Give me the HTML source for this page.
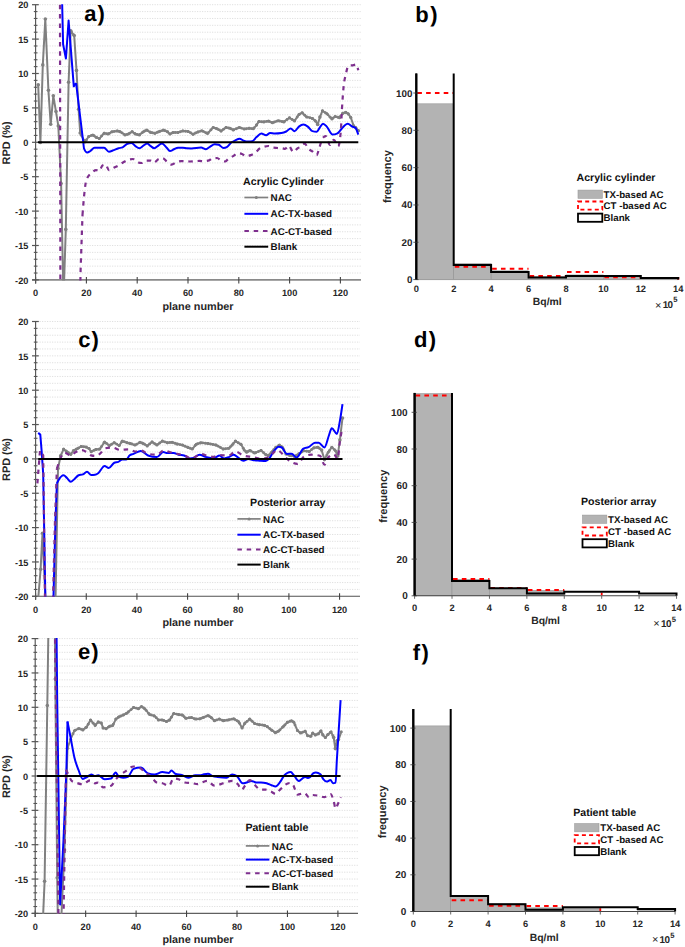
<!DOCTYPE html><html><head><meta charset="utf-8"><style>html,body{margin:0;padding:0;background:#fff;}svg{display:block;}text{font-family:"Liberation Sans", sans-serif;text-rendering:geometricPrecision;}</style></head><body>
<svg width="685" height="947" viewBox="0 0 685 947">
<rect width="685" height="947" fill="#fff"/>
<line x1="37.10" y1="273.02" x2="361.0" y2="273.02" stroke="#d9d9d9" stroke-width="0.9" stroke-dasharray="1.1 1.4"/>
<line x1="37.10" y1="266.14" x2="361.0" y2="266.14" stroke="#d9d9d9" stroke-width="0.9" stroke-dasharray="1.1 1.4"/>
<line x1="37.10" y1="259.26" x2="361.0" y2="259.26" stroke="#d9d9d9" stroke-width="0.9" stroke-dasharray="1.1 1.4"/>
<line x1="37.10" y1="252.38" x2="361.0" y2="252.38" stroke="#d9d9d9" stroke-width="0.9" stroke-dasharray="1.1 1.4"/>
<line x1="37.10" y1="245.50" x2="361.0" y2="245.50" stroke="#d9d9d9" stroke-width="0.9" stroke-dasharray="1.1 1.4"/>
<line x1="37.10" y1="238.62" x2="361.0" y2="238.62" stroke="#d9d9d9" stroke-width="0.9" stroke-dasharray="1.1 1.4"/>
<line x1="37.10" y1="231.74" x2="361.0" y2="231.74" stroke="#d9d9d9" stroke-width="0.9" stroke-dasharray="1.1 1.4"/>
<line x1="37.10" y1="224.86" x2="361.0" y2="224.86" stroke="#d9d9d9" stroke-width="0.9" stroke-dasharray="1.1 1.4"/>
<line x1="37.10" y1="217.98" x2="361.0" y2="217.98" stroke="#d9d9d9" stroke-width="0.9" stroke-dasharray="1.1 1.4"/>
<line x1="37.10" y1="211.10" x2="361.0" y2="211.10" stroke="#d9d9d9" stroke-width="0.9" stroke-dasharray="1.1 1.4"/>
<line x1="37.10" y1="204.22" x2="361.0" y2="204.22" stroke="#d9d9d9" stroke-width="0.9" stroke-dasharray="1.1 1.4"/>
<line x1="37.10" y1="197.34" x2="361.0" y2="197.34" stroke="#d9d9d9" stroke-width="0.9" stroke-dasharray="1.1 1.4"/>
<line x1="37.10" y1="190.46" x2="361.0" y2="190.46" stroke="#d9d9d9" stroke-width="0.9" stroke-dasharray="1.1 1.4"/>
<line x1="37.10" y1="183.58" x2="361.0" y2="183.58" stroke="#d9d9d9" stroke-width="0.9" stroke-dasharray="1.1 1.4"/>
<line x1="37.10" y1="176.70" x2="361.0" y2="176.70" stroke="#d9d9d9" stroke-width="0.9" stroke-dasharray="1.1 1.4"/>
<line x1="37.10" y1="169.82" x2="361.0" y2="169.82" stroke="#d9d9d9" stroke-width="0.9" stroke-dasharray="1.1 1.4"/>
<line x1="37.10" y1="162.94" x2="361.0" y2="162.94" stroke="#d9d9d9" stroke-width="0.9" stroke-dasharray="1.1 1.4"/>
<line x1="37.10" y1="156.06" x2="361.0" y2="156.06" stroke="#d9d9d9" stroke-width="0.9" stroke-dasharray="1.1 1.4"/>
<line x1="37.10" y1="149.18" x2="361.0" y2="149.18" stroke="#d9d9d9" stroke-width="0.9" stroke-dasharray="1.1 1.4"/>
<line x1="37.10" y1="142.30" x2="361.0" y2="142.30" stroke="#d9d9d9" stroke-width="0.9" stroke-dasharray="1.1 1.4"/>
<line x1="37.10" y1="135.42" x2="361.0" y2="135.42" stroke="#d9d9d9" stroke-width="0.9" stroke-dasharray="1.1 1.4"/>
<line x1="37.10" y1="128.54" x2="361.0" y2="128.54" stroke="#d9d9d9" stroke-width="0.9" stroke-dasharray="1.1 1.4"/>
<line x1="37.10" y1="121.66" x2="361.0" y2="121.66" stroke="#d9d9d9" stroke-width="0.9" stroke-dasharray="1.1 1.4"/>
<line x1="37.10" y1="114.78" x2="361.0" y2="114.78" stroke="#d9d9d9" stroke-width="0.9" stroke-dasharray="1.1 1.4"/>
<line x1="37.10" y1="107.90" x2="361.0" y2="107.90" stroke="#d9d9d9" stroke-width="0.9" stroke-dasharray="1.1 1.4"/>
<line x1="37.10" y1="101.02" x2="361.0" y2="101.02" stroke="#d9d9d9" stroke-width="0.9" stroke-dasharray="1.1 1.4"/>
<line x1="37.10" y1="94.14" x2="361.0" y2="94.14" stroke="#d9d9d9" stroke-width="0.9" stroke-dasharray="1.1 1.4"/>
<line x1="37.10" y1="87.26" x2="361.0" y2="87.26" stroke="#d9d9d9" stroke-width="0.9" stroke-dasharray="1.1 1.4"/>
<line x1="37.10" y1="80.38" x2="361.0" y2="80.38" stroke="#d9d9d9" stroke-width="0.9" stroke-dasharray="1.1 1.4"/>
<line x1="37.10" y1="73.50" x2="361.0" y2="73.50" stroke="#d9d9d9" stroke-width="0.9" stroke-dasharray="1.1 1.4"/>
<line x1="37.10" y1="66.62" x2="361.0" y2="66.62" stroke="#d9d9d9" stroke-width="0.9" stroke-dasharray="1.1 1.4"/>
<line x1="37.10" y1="59.74" x2="361.0" y2="59.74" stroke="#d9d9d9" stroke-width="0.9" stroke-dasharray="1.1 1.4"/>
<line x1="37.10" y1="52.86" x2="361.0" y2="52.86" stroke="#d9d9d9" stroke-width="0.9" stroke-dasharray="1.1 1.4"/>
<line x1="37.10" y1="45.98" x2="361.0" y2="45.98" stroke="#d9d9d9" stroke-width="0.9" stroke-dasharray="1.1 1.4"/>
<line x1="37.10" y1="39.10" x2="361.0" y2="39.10" stroke="#d9d9d9" stroke-width="0.9" stroke-dasharray="1.1 1.4"/>
<line x1="37.10" y1="32.22" x2="361.0" y2="32.22" stroke="#d9d9d9" stroke-width="0.9" stroke-dasharray="1.1 1.4"/>
<line x1="37.10" y1="25.34" x2="361.0" y2="25.34" stroke="#d9d9d9" stroke-width="0.9" stroke-dasharray="1.1 1.4"/>
<line x1="37.10" y1="18.46" x2="361.0" y2="18.46" stroke="#d9d9d9" stroke-width="0.9" stroke-dasharray="1.1 1.4"/>
<line x1="37.10" y1="11.58" x2="361.0" y2="11.58" stroke="#d9d9d9" stroke-width="0.9" stroke-dasharray="1.1 1.4"/>
<line x1="37.10" y1="4.70" x2="361.0" y2="4.70" stroke="#d9d9d9" stroke-width="0.9" stroke-dasharray="1.1 1.4"/>
<line x1="32.10" y1="279.90" x2="361.0" y2="279.90" stroke="#8a8a8a" stroke-width="1.6"/>
<line x1="35.60" y1="276.90" x2="35.60" y2="283.40" stroke="#444" stroke-width="1.1"/>
<text x="35.60" y="296.10" text-anchor="middle" font-size="9.2" font-weight="bold" fill="#262626">0</text>
<line x1="86.40" y1="276.90" x2="86.40" y2="283.40" stroke="#444" stroke-width="1.1"/>
<text x="86.40" y="296.10" text-anchor="middle" font-size="9.2" font-weight="bold" fill="#262626">20</text>
<line x1="137.20" y1="276.90" x2="137.20" y2="283.40" stroke="#444" stroke-width="1.1"/>
<text x="137.20" y="296.10" text-anchor="middle" font-size="9.2" font-weight="bold" fill="#262626">40</text>
<line x1="188.00" y1="276.90" x2="188.00" y2="283.40" stroke="#444" stroke-width="1.1"/>
<text x="188.00" y="296.10" text-anchor="middle" font-size="9.2" font-weight="bold" fill="#262626">60</text>
<line x1="238.80" y1="276.90" x2="238.80" y2="283.40" stroke="#444" stroke-width="1.1"/>
<text x="238.80" y="296.10" text-anchor="middle" font-size="9.2" font-weight="bold" fill="#262626">80</text>
<line x1="289.60" y1="276.90" x2="289.60" y2="283.40" stroke="#444" stroke-width="1.1"/>
<text x="289.60" y="296.10" text-anchor="middle" font-size="9.2" font-weight="bold" fill="#262626">100</text>
<line x1="340.40" y1="276.90" x2="340.40" y2="283.40" stroke="#444" stroke-width="1.1"/>
<text x="340.40" y="296.10" text-anchor="middle" font-size="9.2" font-weight="bold" fill="#262626">120</text>
<line x1="35.60" y1="4.70" x2="35.60" y2="283.40" stroke="#555" stroke-width="1.15"/>
<line x1="32.00" y1="279.90" x2="38.80" y2="279.90" stroke="#555" stroke-width="1.2"/>
<text x="28.40" y="283.60" text-anchor="end" font-size="9.2" font-weight="bold" fill="#262626">-20</text>
<line x1="33.80" y1="273.02" x2="37.40" y2="273.02" stroke="#555" stroke-width="1.1"/>
<line x1="33.80" y1="266.14" x2="37.40" y2="266.14" stroke="#555" stroke-width="1.1"/>
<line x1="33.80" y1="259.26" x2="37.40" y2="259.26" stroke="#555" stroke-width="1.1"/>
<line x1="33.80" y1="252.38" x2="37.40" y2="252.38" stroke="#555" stroke-width="1.1"/>
<line x1="32.00" y1="245.50" x2="38.80" y2="245.50" stroke="#555" stroke-width="1.2"/>
<text x="28.40" y="249.20" text-anchor="end" font-size="9.2" font-weight="bold" fill="#262626">-15</text>
<line x1="33.80" y1="238.62" x2="37.40" y2="238.62" stroke="#555" stroke-width="1.1"/>
<line x1="33.80" y1="231.74" x2="37.40" y2="231.74" stroke="#555" stroke-width="1.1"/>
<line x1="33.80" y1="224.86" x2="37.40" y2="224.86" stroke="#555" stroke-width="1.1"/>
<line x1="33.80" y1="217.98" x2="37.40" y2="217.98" stroke="#555" stroke-width="1.1"/>
<line x1="32.00" y1="211.10" x2="38.80" y2="211.10" stroke="#555" stroke-width="1.2"/>
<text x="28.40" y="214.80" text-anchor="end" font-size="9.2" font-weight="bold" fill="#262626">-10</text>
<line x1="33.80" y1="204.22" x2="37.40" y2="204.22" stroke="#555" stroke-width="1.1"/>
<line x1="33.80" y1="197.34" x2="37.40" y2="197.34" stroke="#555" stroke-width="1.1"/>
<line x1="33.80" y1="190.46" x2="37.40" y2="190.46" stroke="#555" stroke-width="1.1"/>
<line x1="33.80" y1="183.58" x2="37.40" y2="183.58" stroke="#555" stroke-width="1.1"/>
<line x1="32.00" y1="176.70" x2="38.80" y2="176.70" stroke="#555" stroke-width="1.2"/>
<text x="28.40" y="180.40" text-anchor="end" font-size="9.2" font-weight="bold" fill="#262626">-5</text>
<line x1="33.80" y1="169.82" x2="37.40" y2="169.82" stroke="#555" stroke-width="1.1"/>
<line x1="33.80" y1="162.94" x2="37.40" y2="162.94" stroke="#555" stroke-width="1.1"/>
<line x1="33.80" y1="156.06" x2="37.40" y2="156.06" stroke="#555" stroke-width="1.1"/>
<line x1="33.80" y1="149.18" x2="37.40" y2="149.18" stroke="#555" stroke-width="1.1"/>
<line x1="32.00" y1="142.30" x2="38.80" y2="142.30" stroke="#555" stroke-width="1.2"/>
<text x="28.40" y="146.00" text-anchor="end" font-size="9.2" font-weight="bold" fill="#262626">0</text>
<line x1="33.80" y1="135.42" x2="37.40" y2="135.42" stroke="#555" stroke-width="1.1"/>
<line x1="33.80" y1="128.54" x2="37.40" y2="128.54" stroke="#555" stroke-width="1.1"/>
<line x1="33.80" y1="121.66" x2="37.40" y2="121.66" stroke="#555" stroke-width="1.1"/>
<line x1="33.80" y1="114.78" x2="37.40" y2="114.78" stroke="#555" stroke-width="1.1"/>
<line x1="32.00" y1="107.90" x2="38.80" y2="107.90" stroke="#555" stroke-width="1.2"/>
<text x="28.40" y="111.60" text-anchor="end" font-size="9.2" font-weight="bold" fill="#262626">5</text>
<line x1="33.80" y1="101.02" x2="37.40" y2="101.02" stroke="#555" stroke-width="1.1"/>
<line x1="33.80" y1="94.14" x2="37.40" y2="94.14" stroke="#555" stroke-width="1.1"/>
<line x1="33.80" y1="87.26" x2="37.40" y2="87.26" stroke="#555" stroke-width="1.1"/>
<line x1="33.80" y1="80.38" x2="37.40" y2="80.38" stroke="#555" stroke-width="1.1"/>
<line x1="32.00" y1="73.50" x2="38.80" y2="73.50" stroke="#555" stroke-width="1.2"/>
<text x="28.40" y="77.20" text-anchor="end" font-size="9.2" font-weight="bold" fill="#262626">10</text>
<line x1="33.80" y1="66.62" x2="37.40" y2="66.62" stroke="#555" stroke-width="1.1"/>
<line x1="33.80" y1="59.74" x2="37.40" y2="59.74" stroke="#555" stroke-width="1.1"/>
<line x1="33.80" y1="52.86" x2="37.40" y2="52.86" stroke="#555" stroke-width="1.1"/>
<line x1="33.80" y1="45.98" x2="37.40" y2="45.98" stroke="#555" stroke-width="1.1"/>
<line x1="32.00" y1="39.10" x2="38.80" y2="39.10" stroke="#555" stroke-width="1.2"/>
<text x="28.40" y="42.80" text-anchor="end" font-size="9.2" font-weight="bold" fill="#262626">15</text>
<line x1="33.80" y1="32.22" x2="37.40" y2="32.22" stroke="#555" stroke-width="1.1"/>
<line x1="33.80" y1="25.34" x2="37.40" y2="25.34" stroke="#555" stroke-width="1.1"/>
<line x1="33.80" y1="18.46" x2="37.40" y2="18.46" stroke="#555" stroke-width="1.1"/>
<line x1="33.80" y1="11.58" x2="37.40" y2="11.58" stroke="#555" stroke-width="1.1"/>
<line x1="32.00" y1="4.70" x2="38.80" y2="4.70" stroke="#555" stroke-width="1.2"/>
<text x="28.40" y="8.40" text-anchor="end" font-size="9.2" font-weight="bold" fill="#262626">20</text>
<text transform="translate(10.0,142.90) rotate(-90)" text-anchor="middle" font-size="10.9" font-weight="bold" fill="#262626">RPD (%)</text>
<text x="198.00" y="309.90" text-anchor="middle" font-size="10.85" font-weight="bold" fill="#262626">plane number</text>
<text x="84.2" y="20.7" font-size="22" font-weight="bold" letter-spacing="1" fill="#000">a)</text>
<clipPath id="clipa"><rect x="35.6" y="4.20" width="325.4" height="276.20"/></clipPath>
<g clip-path="url(#clipa)" fill="none" stroke-linejoin="round">
<polyline points="38.2,84.7 40.4,142.5 42.8,64.9 45.3,19.0 48.4,90.2 50.7,124.3 53.3,95.8 56.0,111.6 58.3,125.9 61.1,183.5 63.5,300.0 65.8,229.4 68.6,82.3 70.7,30.9 74.2,35.6 76.5,70.4 78.6,109.2 80.2,133.0 84.8,142.1 88.8,136.5 92.8,134.9 96.1,137.3 99.3,138.6 104.1,133.3 108.1,134.1 112.1,131.7 117.7,130.9 120.1,131.7 125.0,134.9 128.2,134.1 132.2,131.7 135.4,134.1 139.4,134.9 143.4,131.7 146.6,130.1 150.7,132.5 154.7,133.3 158.7,131.7 163.5,130.1 167.5,131.7 169.9,134.1 173.1,132.5 178.0,132.5 182.8,130.9 188.2,131.5 193.0,134.2 197.8,132.0 201.9,130.7 207.5,133.6 213.1,127.5 217.1,128.8 221.1,131.0 226.0,127.5 230.0,128.3 233.2,129.9 239.6,127.5 244.4,129.1 249.2,128.3 253.3,128.8 256.5,125.1 258.9,121.4 263.7,121.9 268.5,121.1 272.5,122.7 278.1,120.7 283.8,121.9 289.4,117.8 294.5,120.9 298.9,114.6 302.1,112.7 306.6,116.9 312.3,118.4 315.4,120.9 317.7,124.5 319.9,117.1 322.4,110.8 326.8,113.6 331.9,119.0 335.1,116.5 339.5,117.8 342.7,113.3 345.9,112.3 348.4,114.0 350.9,117.8 353.5,125.4 356.0,127.9 358.5,130.8" stroke="#808080" stroke-width="2.0"/>
<g fill="#808080"><circle cx="71.2" cy="31.5" r="1.45"/><circle cx="73.7" cy="34.9" r="1.45"/><circle cx="81.3" cy="135.2" r="1.45"/><circle cx="83.9" cy="140.2" r="1.45"/><circle cx="86.4" cy="139.9" r="1.45"/><circle cx="88.9" cy="136.4" r="1.45"/><circle cx="91.5" cy="135.4" r="1.45"/><circle cx="94.0" cy="135.8" r="1.45"/><circle cx="96.6" cy="137.5" r="1.45"/><circle cx="99.1" cy="138.5" r="1.45"/><circle cx="101.6" cy="136.0" r="1.45"/><circle cx="104.2" cy="133.3" r="1.45"/><circle cx="106.7" cy="133.8" r="1.45"/><circle cx="109.3" cy="133.4" r="1.45"/><circle cx="111.8" cy="131.9" r="1.45"/><circle cx="114.3" cy="131.4" r="1.45"/><circle cx="116.9" cy="131.0" r="1.45"/><circle cx="119.4" cy="131.5" r="1.45"/><circle cx="122.0" cy="132.9" r="1.45"/><circle cx="124.5" cy="134.6" r="1.45"/><circle cx="127.0" cy="134.4" r="1.45"/><circle cx="129.6" cy="133.3" r="1.45"/><circle cx="132.1" cy="131.7" r="1.45"/><circle cx="134.7" cy="133.5" r="1.45"/><circle cx="137.2" cy="134.5" r="1.45"/><circle cx="139.7" cy="134.6" r="1.45"/><circle cx="142.3" cy="132.6" r="1.45"/><circle cx="144.8" cy="131.0" r="1.45"/><circle cx="147.4" cy="130.5" r="1.45"/><circle cx="149.9" cy="132.0" r="1.45"/><circle cx="152.4" cy="132.8" r="1.45"/><circle cx="155.0" cy="133.2" r="1.45"/><circle cx="157.5" cy="132.2" r="1.45"/><circle cx="160.1" cy="131.2" r="1.45"/><circle cx="162.6" cy="130.4" r="1.45"/><circle cx="165.1" cy="130.8" r="1.45"/><circle cx="167.7" cy="131.9" r="1.45"/><circle cx="170.2" cy="133.9" r="1.45"/><circle cx="172.8" cy="132.7" r="1.45"/><circle cx="175.3" cy="132.5" r="1.45"/><circle cx="177.8" cy="132.5" r="1.45"/><circle cx="180.4" cy="131.7" r="1.45"/><circle cx="182.9" cy="130.9" r="1.45"/><circle cx="185.5" cy="131.2" r="1.45"/><circle cx="188.0" cy="131.5" r="1.45"/><circle cx="190.5" cy="132.8" r="1.45"/><circle cx="193.1" cy="134.2" r="1.45"/><circle cx="195.6" cy="133.0" r="1.45"/><circle cx="198.2" cy="131.9" r="1.45"/><circle cx="200.7" cy="131.1" r="1.45"/><circle cx="203.2" cy="131.4" r="1.45"/><circle cx="205.8" cy="132.7" r="1.45"/><circle cx="208.3" cy="132.7" r="1.45"/><circle cx="210.9" cy="129.9" r="1.45"/><circle cx="213.4" cy="127.6" r="1.45"/><circle cx="215.9" cy="128.4" r="1.45"/><circle cx="218.5" cy="129.6" r="1.45"/><circle cx="221.0" cy="131.0" r="1.45"/><circle cx="223.6" cy="129.2" r="1.45"/><circle cx="226.1" cy="127.5" r="1.45"/><circle cx="228.6" cy="128.0" r="1.45"/><circle cx="231.2" cy="128.9" r="1.45"/><circle cx="233.7" cy="129.7" r="1.45"/><circle cx="236.3" cy="128.8" r="1.45"/><circle cx="238.8" cy="127.8" r="1.45"/><circle cx="241.3" cy="128.1" r="1.45"/><circle cx="243.9" cy="128.9" r="1.45"/><circle cx="246.4" cy="128.8" r="1.45"/><circle cx="249.0" cy="128.3" r="1.45"/><circle cx="251.5" cy="128.6" r="1.45"/><circle cx="254.0" cy="127.9" r="1.45"/><circle cx="256.6" cy="125.0" r="1.45"/><circle cx="259.1" cy="121.4" r="1.45"/><circle cx="261.7" cy="121.7" r="1.45"/><circle cx="264.2" cy="121.8" r="1.45"/><circle cx="266.7" cy="121.4" r="1.45"/><circle cx="269.3" cy="121.4" r="1.45"/><circle cx="271.8" cy="122.4" r="1.45"/><circle cx="274.4" cy="122.0" r="1.45"/><circle cx="276.9" cy="121.1" r="1.45"/><circle cx="279.4" cy="121.0" r="1.45"/><circle cx="282.0" cy="121.5" r="1.45"/><circle cx="284.5" cy="121.4" r="1.45"/><circle cx="287.1" cy="119.5" r="1.45"/><circle cx="289.6" cy="117.9" r="1.45"/><circle cx="292.1" cy="119.5" r="1.45"/><circle cx="294.7" cy="120.6" r="1.45"/><circle cx="297.2" cy="117.0" r="1.45"/><circle cx="299.8" cy="114.1" r="1.45"/><circle cx="302.3" cy="112.9" r="1.45"/><circle cx="304.8" cy="115.3" r="1.45"/><circle cx="307.4" cy="117.1" r="1.45"/><circle cx="309.9" cy="117.8" r="1.45"/><circle cx="312.5" cy="118.5" r="1.45"/><circle cx="315.0" cy="120.6" r="1.45"/><circle cx="317.5" cy="124.2" r="1.45"/><circle cx="322.6" cy="110.9" r="1.45"/><circle cx="325.2" cy="112.6" r="1.45"/><circle cx="327.7" cy="114.6" r="1.45"/><circle cx="330.2" cy="117.2" r="1.45"/><circle cx="332.8" cy="118.3" r="1.45"/><circle cx="335.3" cy="116.6" r="1.45"/><circle cx="337.9" cy="117.3" r="1.45"/><circle cx="340.4" cy="116.5" r="1.45"/><circle cx="342.9" cy="113.2" r="1.45"/><circle cx="345.5" cy="112.4" r="1.45"/><circle cx="348.0" cy="113.7" r="1.45"/><circle cx="350.6" cy="117.3" r="1.45"/><circle cx="355.6" cy="127.5" r="1.45"/><circle cx="358.2" cy="130.4" r="1.45"/></g>
<g fill="#808080"><circle cx="38.2" cy="84.7" r="1.8"/><circle cx="40.4" cy="142.5" r="1.8"/><circle cx="42.8" cy="64.9" r="1.8"/><circle cx="45.3" cy="19.0" r="1.8"/><circle cx="48.4" cy="90.2" r="1.8"/><circle cx="50.7" cy="124.3" r="1.8"/><circle cx="53.3" cy="95.8" r="1.8"/><circle cx="56.0" cy="111.6" r="1.8"/><circle cx="58.3" cy="125.9" r="1.8"/><circle cx="61.1" cy="183.5" r="1.8"/><circle cx="63.5" cy="300.0" r="1.8"/><circle cx="65.8" cy="229.4" r="1.8"/><circle cx="68.6" cy="82.3" r="1.8"/><circle cx="70.7" cy="30.9" r="1.8"/><circle cx="74.2" cy="35.6" r="1.8"/><circle cx="76.5" cy="70.4" r="1.8"/><circle cx="78.6" cy="109.2" r="1.8"/><circle cx="80.2" cy="133.0" r="1.8"/><circle cx="84.8" cy="142.1" r="1.5"/><circle cx="88.8" cy="136.5" r="1.5"/><circle cx="92.8" cy="134.9" r="1.5"/><circle cx="96.1" cy="137.3" r="1.5"/><circle cx="99.3" cy="138.6" r="1.5"/><circle cx="104.1" cy="133.3" r="1.5"/><circle cx="108.1" cy="134.1" r="1.5"/><circle cx="112.1" cy="131.7" r="1.5"/><circle cx="117.7" cy="130.9" r="1.5"/><circle cx="120.1" cy="131.7" r="1.5"/><circle cx="125.0" cy="134.9" r="1.5"/><circle cx="128.2" cy="134.1" r="1.5"/><circle cx="132.2" cy="131.7" r="1.5"/><circle cx="135.4" cy="134.1" r="1.5"/><circle cx="139.4" cy="134.9" r="1.5"/><circle cx="143.4" cy="131.7" r="1.5"/><circle cx="146.6" cy="130.1" r="1.5"/><circle cx="150.7" cy="132.5" r="1.5"/><circle cx="154.7" cy="133.3" r="1.5"/><circle cx="158.7" cy="131.7" r="1.5"/><circle cx="163.5" cy="130.1" r="1.5"/><circle cx="167.5" cy="131.7" r="1.5"/><circle cx="169.9" cy="134.1" r="1.5"/><circle cx="173.1" cy="132.5" r="1.5"/><circle cx="178.0" cy="132.5" r="1.5"/><circle cx="182.8" cy="130.9" r="1.5"/><circle cx="188.2" cy="131.5" r="1.5"/><circle cx="193.0" cy="134.2" r="1.5"/><circle cx="197.8" cy="132.0" r="1.5"/><circle cx="201.9" cy="130.7" r="1.5"/><circle cx="207.5" cy="133.6" r="1.5"/><circle cx="213.1" cy="127.5" r="1.5"/><circle cx="217.1" cy="128.8" r="1.5"/><circle cx="221.1" cy="131.0" r="1.5"/><circle cx="226.0" cy="127.5" r="1.5"/><circle cx="230.0" cy="128.3" r="1.5"/><circle cx="233.2" cy="129.9" r="1.5"/><circle cx="239.6" cy="127.5" r="1.5"/><circle cx="244.4" cy="129.1" r="1.5"/><circle cx="249.2" cy="128.3" r="1.5"/><circle cx="253.3" cy="128.8" r="1.5"/><circle cx="256.5" cy="125.1" r="1.5"/><circle cx="258.9" cy="121.4" r="1.5"/><circle cx="263.7" cy="121.9" r="1.5"/><circle cx="268.5" cy="121.1" r="1.5"/><circle cx="272.5" cy="122.7" r="1.5"/><circle cx="278.1" cy="120.7" r="1.5"/><circle cx="283.8" cy="121.9" r="1.5"/><circle cx="289.4" cy="117.8" r="1.5"/><circle cx="294.5" cy="120.9" r="1.5"/><circle cx="298.9" cy="114.6" r="1.5"/><circle cx="302.1" cy="112.7" r="1.5"/><circle cx="306.6" cy="116.9" r="1.5"/><circle cx="312.3" cy="118.4" r="1.5"/><circle cx="315.4" cy="120.9" r="1.5"/><circle cx="317.7" cy="124.5" r="1.8"/><circle cx="319.9" cy="117.1" r="1.8"/><circle cx="322.4" cy="110.8" r="1.5"/><circle cx="326.8" cy="113.6" r="1.5"/><circle cx="331.9" cy="119.0" r="1.5"/><circle cx="335.1" cy="116.5" r="1.5"/><circle cx="339.5" cy="117.8" r="1.5"/><circle cx="342.7" cy="113.3" r="1.5"/><circle cx="345.9" cy="112.3" r="1.5"/><circle cx="348.4" cy="114.0" r="1.5"/><circle cx="350.9" cy="117.8" r="1.5"/><circle cx="353.5" cy="125.4" r="1.5"/><circle cx="356.0" cy="127.9" r="1.5"/><circle cx="358.5" cy="130.8" r="1.5"/></g>
<path d="M61.60,-20.00 L63.10,44.30 L65.90,58.60 L68.60,20.60 L73.80,86.30 L76.10,83.10" stroke="#0000ff" stroke-width="2"/>
<path d="M76.10,83.10 C78.50,102.55 80.90,122.00 83.30,142.50 C83.53,144.49 83.77,147.90 84.00,148.50 C85.07,151.23 86.13,152.60 87.20,152.60 C88.27,152.60 89.33,151.68 90.40,151.00 C91.77,150.13 93.13,147.70 94.50,147.70 C97.70,147.70 100.90,147.70 104.10,147.70 C105.70,147.70 107.30,151.80 108.90,151.80 C110.50,151.80 112.10,150.70 113.70,150.10 C115.30,149.50 116.90,148.68 118.50,148.20 C119.87,147.79 121.23,147.90 122.60,147.30 C124.20,146.60 125.80,144.34 127.40,143.70 C128.73,143.17 130.07,142.90 131.40,142.90 C132.73,142.90 134.07,145.22 135.40,146.10 C136.73,146.98 138.07,148.20 139.40,148.20 C140.73,148.20 142.07,146.53 143.40,145.70 C144.63,144.93 145.87,143.40 147.10,143.40 C148.30,143.40 149.50,145.29 150.70,146.10 C151.87,146.89 153.03,148.20 154.20,148.20 C155.70,148.20 157.20,146.22 158.70,145.30 C159.77,144.64 160.83,143.40 161.90,143.40 C163.50,143.40 165.10,146.14 166.70,147.70 C167.77,148.74 168.83,151.00 169.90,151.00 C171.23,151.00 172.57,149.84 173.90,149.30 C175.27,148.74 176.63,147.70 178.00,147.70 C179.60,147.70 181.20,147.70 182.80,147.70 C184.20,147.70 185.60,148.24 187.00,148.30 C188.47,148.37 189.93,148.40 191.40,148.40 C194.63,148.40 197.87,147.60 201.10,147.60 C202.70,147.60 204.30,149.20 205.90,149.20 C207.23,149.20 208.57,147.55 209.90,146.80 C211.50,145.90 213.10,144.30 214.70,144.30 C216.03,144.30 217.37,144.47 218.70,144.80 C220.30,145.20 221.90,148.00 223.50,148.00 C224.60,148.00 225.70,147.70 226.80,147.10 C228.40,146.23 230.00,143.42 231.60,142.30 C232.67,141.55 233.73,141.20 234.80,140.70 C236.40,139.95 238.00,138.70 239.60,138.70 C240.93,138.70 242.27,140.22 243.60,140.70 C245.20,141.27 246.80,141.60 248.40,141.60 C249.73,141.60 251.07,141.43 252.40,141.10 C253.77,140.76 255.13,138.28 256.50,137.10 C258.10,135.72 259.70,133.60 261.30,133.60 C262.90,133.60 264.50,135.20 266.10,135.20 C267.43,135.20 268.77,133.10 270.10,133.10 C271.70,133.10 273.30,133.60 274.90,133.60 C277.07,133.60 279.23,133.43 281.40,133.10 C283.00,132.85 284.60,132.31 286.20,131.50 C287.70,130.74 289.20,128.50 290.70,128.50 C291.97,128.50 293.23,131.30 294.50,131.30 C295.97,131.30 297.43,127.73 298.90,126.60 C300.40,125.44 301.90,124.50 303.40,124.50 C304.87,124.50 306.33,125.52 307.80,126.60 C309.30,127.70 310.80,130.69 312.30,131.10 C313.77,131.50 315.23,131.70 316.70,131.70 C317.77,131.70 318.83,128.65 319.90,127.30 C320.93,125.99 321.97,123.70 323.00,123.70 C324.27,123.70 325.53,125.31 326.80,126.60 C328.70,128.54 330.60,134.60 332.50,134.60 C334.00,134.60 335.50,134.27 337.00,133.60 C338.27,133.04 339.53,131.17 340.80,129.80 C342.07,128.43 343.33,126.44 344.60,125.40 C345.67,124.53 346.73,123.70 347.80,123.70 C349.27,123.70 350.73,125.85 352.20,126.60 C353.27,127.15 354.33,127.03 355.40,127.90 C356.37,128.69 357.33,131.64 358.30,134.60" stroke="#0000ff" stroke-width="2"/>
<path d="M59.95,-23.10 L60.40,300.00" stroke="#7e2f8e" stroke-width="2.2" stroke-dasharray="4.5 4.8"/>
<path d="M80.00,300.00 L80.60,270.00 L82.50,215.00" stroke="#7e2f8e" stroke-width="2.2" stroke-dasharray="4.5 4.8"/>
<path d="M82.50,215.00 C83.17,206.46 83.83,197.91 84.50,192.00 C85.13,186.38 85.77,181.55 86.40,179.90 C88.27,175.03 90.13,174.26 92.00,172.60 C93.37,171.39 94.73,170.20 96.10,170.20 C97.17,170.20 98.23,171.00 99.30,171.00 C100.37,171.00 101.43,165.93 102.50,165.40 C103.57,164.87 104.63,164.60 105.70,164.60 C106.77,164.60 107.83,170.20 108.90,170.20 C110.50,170.20 112.10,168.60 113.70,167.80 C115.30,167.00 116.90,166.32 118.50,165.40 C120.13,164.46 121.77,163.14 123.40,162.20 C125.00,161.28 126.60,160.33 128.20,159.80 C129.80,159.27 131.40,159.00 133.00,159.00 C134.33,159.00 135.67,161.76 137.00,162.20 C138.60,162.73 140.20,163.00 141.80,163.00 C143.13,163.00 144.47,160.60 145.80,160.60 C147.43,160.60 149.07,160.60 150.70,160.60 C151.77,160.60 152.83,162.70 153.90,162.70 C155.50,162.70 157.10,159.64 158.70,159.00 C160.03,158.47 161.37,158.20 162.70,158.20 C164.03,158.20 165.37,160.41 166.70,161.40 C168.30,162.58 169.90,164.60 171.50,164.60 C173.13,164.60 174.77,162.78 176.40,162.20 C178.00,161.63 179.60,161.10 181.20,161.10 C182.63,161.10 184.07,161.13 185.50,161.20 C186.93,161.27 188.37,161.50 189.80,161.50 C191.40,161.50 193.00,161.30 194.60,161.20 C196.23,161.10 197.87,160.90 199.50,160.90 C200.83,160.90 202.17,161.20 203.50,161.20 C205.37,161.20 207.23,160.93 209.10,160.40 C210.17,160.10 211.23,158.43 212.30,158.30 C213.90,158.10 215.50,158.00 217.10,158.00 C218.43,158.00 219.77,159.82 221.10,160.40 C222.43,160.98 223.77,161.50 225.10,161.50 C226.20,161.50 227.30,159.59 228.40,158.80 C230.00,157.66 231.60,157.03 233.20,156.10 C234.80,155.17 236.40,153.20 238.00,153.20 C239.33,153.20 240.67,153.52 242.00,154.00 C243.33,154.48 244.67,156.10 246.00,156.10 C247.60,156.10 249.20,155.70 250.80,155.10 C252.43,154.48 254.07,153.70 255.70,152.40 C257.03,151.34 258.37,149.33 259.70,148.40 C261.03,147.47 262.37,147.19 263.70,146.80 C265.30,146.33 266.90,146.00 268.50,146.00 C269.83,146.00 271.17,147.41 272.50,147.60 C274.37,147.87 276.23,147.85 278.10,148.00 C279.70,148.12 281.30,148.15 282.90,148.40 C283.60,148.51 284.30,148.80 285.00,148.80 C286.27,148.80 287.53,145.60 288.80,145.60 C290.27,145.60 291.73,152.00 293.20,152.00 C294.70,152.00 296.20,149.09 297.70,148.20 C298.73,147.59 299.77,147.52 300.80,146.90 C302.10,146.12 303.40,143.70 304.70,143.70 C305.97,143.70 307.23,147.52 308.50,148.80 C309.77,150.08 311.03,150.43 312.30,151.40 C313.77,152.53 315.23,155.20 316.70,155.20 C317.53,155.20 318.37,150.60 319.20,148.20 C320.27,145.13 321.33,140.43 322.40,138.70 C323.47,136.97 324.53,136.10 325.60,136.10 C327.07,136.10 328.53,145.00 330.00,145.00 C331.27,145.00 332.53,139.90 333.80,139.90 C335.27,139.90 336.73,146.30 338.20,146.30 C339.07,146.30 339.93,141.23 340.80,131.10 C341.20,126.42 341.60,114.87 342.00,108.20 C342.53,99.31 343.07,92.13 343.60,86.70 C344.37,78.89 345.13,77.41 345.90,74.00 C346.73,70.29 347.57,66.03 348.40,65.80 C350.10,65.33 351.80,65.45 353.50,65.10 C354.33,64.93 355.17,64.50 356.00,64.50 C356.77,64.50 357.53,67.35 358.30,70.20" stroke="#7e2f8e" stroke-width="2.2" stroke-dasharray="4.5 4.8"/>
<line x1="37.9" y1="142.30" x2="358.3" y2="142.30" stroke="#000" stroke-width="2"/>
</g>
<text x="243.1" y="184.9" font-size="10.6" font-weight="bold" fill="#111">Acrylic Cylinder</text>
<line x1="244.4" y1="197.5" x2="268.2" y2="197.5" stroke="#808080" stroke-width="1.7"/>
<circle cx="256.3" cy="197.5" r="1.5" fill="#808080"/>
<text x="270.6" y="201.1" font-size="9.8" font-weight="bold" fill="#111">NAC</text>
<line x1="244.4" y1="213.8" x2="268.2" y2="213.8" stroke="#0000ff" stroke-width="2"/>
<text x="270.6" y="217.4" font-size="9.8" font-weight="bold" fill="#111">AC-TX-based</text>
<line x1="244.4" y1="231.0" x2="268.2" y2="231.0" stroke="#7e2f8e" stroke-width="2" stroke-dasharray="4.5 4.8"/>
<text x="270.6" y="234.6" font-size="9.8" font-weight="bold" fill="#111">AC-CT-based</text>
<line x1="244.4" y1="246.7" x2="268.2" y2="246.7" stroke="#000" stroke-width="2"/>
<text x="270.6" y="250.3" font-size="9.8" font-weight="bold" fill="#111">Blank</text>
<line x1="37.10" y1="589.43" x2="360.0" y2="589.43" stroke="#d9d9d9" stroke-width="0.9" stroke-dasharray="1.1 1.4"/>
<line x1="37.10" y1="582.56" x2="360.0" y2="582.56" stroke="#d9d9d9" stroke-width="0.9" stroke-dasharray="1.1 1.4"/>
<line x1="37.10" y1="575.69" x2="360.0" y2="575.69" stroke="#d9d9d9" stroke-width="0.9" stroke-dasharray="1.1 1.4"/>
<line x1="37.10" y1="568.82" x2="360.0" y2="568.82" stroke="#d9d9d9" stroke-width="0.9" stroke-dasharray="1.1 1.4"/>
<line x1="37.10" y1="561.95" x2="360.0" y2="561.95" stroke="#d9d9d9" stroke-width="0.9" stroke-dasharray="1.1 1.4"/>
<line x1="37.10" y1="555.08" x2="360.0" y2="555.08" stroke="#d9d9d9" stroke-width="0.9" stroke-dasharray="1.1 1.4"/>
<line x1="37.10" y1="548.21" x2="360.0" y2="548.21" stroke="#d9d9d9" stroke-width="0.9" stroke-dasharray="1.1 1.4"/>
<line x1="37.10" y1="541.34" x2="360.0" y2="541.34" stroke="#d9d9d9" stroke-width="0.9" stroke-dasharray="1.1 1.4"/>
<line x1="37.10" y1="534.47" x2="360.0" y2="534.47" stroke="#d9d9d9" stroke-width="0.9" stroke-dasharray="1.1 1.4"/>
<line x1="37.10" y1="527.60" x2="360.0" y2="527.60" stroke="#d9d9d9" stroke-width="0.9" stroke-dasharray="1.1 1.4"/>
<line x1="37.10" y1="520.73" x2="360.0" y2="520.73" stroke="#d9d9d9" stroke-width="0.9" stroke-dasharray="1.1 1.4"/>
<line x1="37.10" y1="513.86" x2="360.0" y2="513.86" stroke="#d9d9d9" stroke-width="0.9" stroke-dasharray="1.1 1.4"/>
<line x1="37.10" y1="506.99" x2="360.0" y2="506.99" stroke="#d9d9d9" stroke-width="0.9" stroke-dasharray="1.1 1.4"/>
<line x1="37.10" y1="500.12" x2="360.0" y2="500.12" stroke="#d9d9d9" stroke-width="0.9" stroke-dasharray="1.1 1.4"/>
<line x1="37.10" y1="493.25" x2="360.0" y2="493.25" stroke="#d9d9d9" stroke-width="0.9" stroke-dasharray="1.1 1.4"/>
<line x1="37.10" y1="486.38" x2="360.0" y2="486.38" stroke="#d9d9d9" stroke-width="0.9" stroke-dasharray="1.1 1.4"/>
<line x1="37.10" y1="479.51" x2="360.0" y2="479.51" stroke="#d9d9d9" stroke-width="0.9" stroke-dasharray="1.1 1.4"/>
<line x1="37.10" y1="472.64" x2="360.0" y2="472.64" stroke="#d9d9d9" stroke-width="0.9" stroke-dasharray="1.1 1.4"/>
<line x1="37.10" y1="465.77" x2="360.0" y2="465.77" stroke="#d9d9d9" stroke-width="0.9" stroke-dasharray="1.1 1.4"/>
<line x1="37.10" y1="458.90" x2="360.0" y2="458.90" stroke="#d9d9d9" stroke-width="0.9" stroke-dasharray="1.1 1.4"/>
<line x1="37.10" y1="452.03" x2="360.0" y2="452.03" stroke="#d9d9d9" stroke-width="0.9" stroke-dasharray="1.1 1.4"/>
<line x1="37.10" y1="445.16" x2="360.0" y2="445.16" stroke="#d9d9d9" stroke-width="0.9" stroke-dasharray="1.1 1.4"/>
<line x1="37.10" y1="438.29" x2="360.0" y2="438.29" stroke="#d9d9d9" stroke-width="0.9" stroke-dasharray="1.1 1.4"/>
<line x1="37.10" y1="431.42" x2="360.0" y2="431.42" stroke="#d9d9d9" stroke-width="0.9" stroke-dasharray="1.1 1.4"/>
<line x1="37.10" y1="424.55" x2="360.0" y2="424.55" stroke="#d9d9d9" stroke-width="0.9" stroke-dasharray="1.1 1.4"/>
<line x1="37.10" y1="417.68" x2="360.0" y2="417.68" stroke="#d9d9d9" stroke-width="0.9" stroke-dasharray="1.1 1.4"/>
<line x1="37.10" y1="410.81" x2="360.0" y2="410.81" stroke="#d9d9d9" stroke-width="0.9" stroke-dasharray="1.1 1.4"/>
<line x1="37.10" y1="403.94" x2="360.0" y2="403.94" stroke="#d9d9d9" stroke-width="0.9" stroke-dasharray="1.1 1.4"/>
<line x1="37.10" y1="397.07" x2="360.0" y2="397.07" stroke="#d9d9d9" stroke-width="0.9" stroke-dasharray="1.1 1.4"/>
<line x1="37.10" y1="390.20" x2="360.0" y2="390.20" stroke="#d9d9d9" stroke-width="0.9" stroke-dasharray="1.1 1.4"/>
<line x1="37.10" y1="383.33" x2="360.0" y2="383.33" stroke="#d9d9d9" stroke-width="0.9" stroke-dasharray="1.1 1.4"/>
<line x1="37.10" y1="376.46" x2="360.0" y2="376.46" stroke="#d9d9d9" stroke-width="0.9" stroke-dasharray="1.1 1.4"/>
<line x1="37.10" y1="369.59" x2="360.0" y2="369.59" stroke="#d9d9d9" stroke-width="0.9" stroke-dasharray="1.1 1.4"/>
<line x1="37.10" y1="362.72" x2="360.0" y2="362.72" stroke="#d9d9d9" stroke-width="0.9" stroke-dasharray="1.1 1.4"/>
<line x1="37.10" y1="355.85" x2="360.0" y2="355.85" stroke="#d9d9d9" stroke-width="0.9" stroke-dasharray="1.1 1.4"/>
<line x1="37.10" y1="348.98" x2="360.0" y2="348.98" stroke="#d9d9d9" stroke-width="0.9" stroke-dasharray="1.1 1.4"/>
<line x1="37.10" y1="342.11" x2="360.0" y2="342.11" stroke="#d9d9d9" stroke-width="0.9" stroke-dasharray="1.1 1.4"/>
<line x1="37.10" y1="335.24" x2="360.0" y2="335.24" stroke="#d9d9d9" stroke-width="0.9" stroke-dasharray="1.1 1.4"/>
<line x1="37.10" y1="328.37" x2="360.0" y2="328.37" stroke="#d9d9d9" stroke-width="0.9" stroke-dasharray="1.1 1.4"/>
<line x1="37.10" y1="321.50" x2="360.0" y2="321.50" stroke="#d9d9d9" stroke-width="0.9" stroke-dasharray="1.1 1.4"/>
<line x1="32.10" y1="596.30" x2="360.0" y2="596.30" stroke="#505050" stroke-width="1.1"/>
<line x1="35.60" y1="593.30" x2="35.60" y2="599.80" stroke="#444" stroke-width="1.1"/>
<text x="35.60" y="612.50" text-anchor="middle" font-size="9.2" font-weight="bold" fill="#262626">0</text>
<line x1="86.26" y1="593.30" x2="86.26" y2="599.80" stroke="#444" stroke-width="1.1"/>
<text x="86.26" y="612.50" text-anchor="middle" font-size="9.2" font-weight="bold" fill="#262626">20</text>
<line x1="136.92" y1="593.30" x2="136.92" y2="599.80" stroke="#444" stroke-width="1.1"/>
<text x="136.92" y="612.50" text-anchor="middle" font-size="9.2" font-weight="bold" fill="#262626">40</text>
<line x1="187.58" y1="593.30" x2="187.58" y2="599.80" stroke="#444" stroke-width="1.1"/>
<text x="187.58" y="612.50" text-anchor="middle" font-size="9.2" font-weight="bold" fill="#262626">60</text>
<line x1="238.24" y1="593.30" x2="238.24" y2="599.80" stroke="#444" stroke-width="1.1"/>
<text x="238.24" y="612.50" text-anchor="middle" font-size="9.2" font-weight="bold" fill="#262626">80</text>
<line x1="288.90" y1="593.30" x2="288.90" y2="599.80" stroke="#444" stroke-width="1.1"/>
<text x="288.90" y="612.50" text-anchor="middle" font-size="9.2" font-weight="bold" fill="#262626">100</text>
<line x1="339.56" y1="593.30" x2="339.56" y2="599.80" stroke="#444" stroke-width="1.1"/>
<text x="339.56" y="612.50" text-anchor="middle" font-size="9.2" font-weight="bold" fill="#262626">120</text>
<line x1="35.60" y1="321.50" x2="35.60" y2="599.80" stroke="#555" stroke-width="1.15"/>
<line x1="32.00" y1="596.30" x2="38.80" y2="596.30" stroke="#555" stroke-width="1.2"/>
<text x="28.40" y="600.00" text-anchor="end" font-size="9.2" font-weight="bold" fill="#262626">-20</text>
<line x1="33.80" y1="589.43" x2="37.40" y2="589.43" stroke="#555" stroke-width="1.1"/>
<line x1="33.80" y1="582.56" x2="37.40" y2="582.56" stroke="#555" stroke-width="1.1"/>
<line x1="33.80" y1="575.69" x2="37.40" y2="575.69" stroke="#555" stroke-width="1.1"/>
<line x1="33.80" y1="568.82" x2="37.40" y2="568.82" stroke="#555" stroke-width="1.1"/>
<line x1="32.00" y1="561.95" x2="38.80" y2="561.95" stroke="#555" stroke-width="1.2"/>
<text x="28.40" y="565.65" text-anchor="end" font-size="9.2" font-weight="bold" fill="#262626">-15</text>
<line x1="33.80" y1="555.08" x2="37.40" y2="555.08" stroke="#555" stroke-width="1.1"/>
<line x1="33.80" y1="548.21" x2="37.40" y2="548.21" stroke="#555" stroke-width="1.1"/>
<line x1="33.80" y1="541.34" x2="37.40" y2="541.34" stroke="#555" stroke-width="1.1"/>
<line x1="33.80" y1="534.47" x2="37.40" y2="534.47" stroke="#555" stroke-width="1.1"/>
<line x1="32.00" y1="527.60" x2="38.80" y2="527.60" stroke="#555" stroke-width="1.2"/>
<text x="28.40" y="531.30" text-anchor="end" font-size="9.2" font-weight="bold" fill="#262626">-10</text>
<line x1="33.80" y1="520.73" x2="37.40" y2="520.73" stroke="#555" stroke-width="1.1"/>
<line x1="33.80" y1="513.86" x2="37.40" y2="513.86" stroke="#555" stroke-width="1.1"/>
<line x1="33.80" y1="506.99" x2="37.40" y2="506.99" stroke="#555" stroke-width="1.1"/>
<line x1="33.80" y1="500.12" x2="37.40" y2="500.12" stroke="#555" stroke-width="1.1"/>
<line x1="32.00" y1="493.25" x2="38.80" y2="493.25" stroke="#555" stroke-width="1.2"/>
<text x="28.40" y="496.95" text-anchor="end" font-size="9.2" font-weight="bold" fill="#262626">-5</text>
<line x1="33.80" y1="486.38" x2="37.40" y2="486.38" stroke="#555" stroke-width="1.1"/>
<line x1="33.80" y1="479.51" x2="37.40" y2="479.51" stroke="#555" stroke-width="1.1"/>
<line x1="33.80" y1="472.64" x2="37.40" y2="472.64" stroke="#555" stroke-width="1.1"/>
<line x1="33.80" y1="465.77" x2="37.40" y2="465.77" stroke="#555" stroke-width="1.1"/>
<line x1="32.00" y1="458.90" x2="38.80" y2="458.90" stroke="#555" stroke-width="1.2"/>
<text x="28.40" y="462.60" text-anchor="end" font-size="9.2" font-weight="bold" fill="#262626">0</text>
<line x1="33.80" y1="452.03" x2="37.40" y2="452.03" stroke="#555" stroke-width="1.1"/>
<line x1="33.80" y1="445.16" x2="37.40" y2="445.16" stroke="#555" stroke-width="1.1"/>
<line x1="33.80" y1="438.29" x2="37.40" y2="438.29" stroke="#555" stroke-width="1.1"/>
<line x1="33.80" y1="431.42" x2="37.40" y2="431.42" stroke="#555" stroke-width="1.1"/>
<line x1="32.00" y1="424.55" x2="38.80" y2="424.55" stroke="#555" stroke-width="1.2"/>
<text x="28.40" y="428.25" text-anchor="end" font-size="9.2" font-weight="bold" fill="#262626">5</text>
<line x1="33.80" y1="417.68" x2="37.40" y2="417.68" stroke="#555" stroke-width="1.1"/>
<line x1="33.80" y1="410.81" x2="37.40" y2="410.81" stroke="#555" stroke-width="1.1"/>
<line x1="33.80" y1="403.94" x2="37.40" y2="403.94" stroke="#555" stroke-width="1.1"/>
<line x1="33.80" y1="397.07" x2="37.40" y2="397.07" stroke="#555" stroke-width="1.1"/>
<line x1="32.00" y1="390.20" x2="38.80" y2="390.20" stroke="#555" stroke-width="1.2"/>
<text x="28.40" y="393.90" text-anchor="end" font-size="9.2" font-weight="bold" fill="#262626">10</text>
<line x1="33.80" y1="383.33" x2="37.40" y2="383.33" stroke="#555" stroke-width="1.1"/>
<line x1="33.80" y1="376.46" x2="37.40" y2="376.46" stroke="#555" stroke-width="1.1"/>
<line x1="33.80" y1="369.59" x2="37.40" y2="369.59" stroke="#555" stroke-width="1.1"/>
<line x1="33.80" y1="362.72" x2="37.40" y2="362.72" stroke="#555" stroke-width="1.1"/>
<line x1="32.00" y1="355.85" x2="38.80" y2="355.85" stroke="#555" stroke-width="1.2"/>
<text x="28.40" y="359.55" text-anchor="end" font-size="9.2" font-weight="bold" fill="#262626">15</text>
<line x1="33.80" y1="348.98" x2="37.40" y2="348.98" stroke="#555" stroke-width="1.1"/>
<line x1="33.80" y1="342.11" x2="37.40" y2="342.11" stroke="#555" stroke-width="1.1"/>
<line x1="33.80" y1="335.24" x2="37.40" y2="335.24" stroke="#555" stroke-width="1.1"/>
<line x1="33.80" y1="328.37" x2="37.40" y2="328.37" stroke="#555" stroke-width="1.1"/>
<line x1="32.00" y1="321.50" x2="38.80" y2="321.50" stroke="#555" stroke-width="1.2"/>
<text x="28.40" y="325.20" text-anchor="end" font-size="9.2" font-weight="bold" fill="#262626">20</text>
<text transform="translate(10.0,459.50) rotate(-90)" text-anchor="middle" font-size="10.9" font-weight="bold" fill="#262626">RPD (%)</text>
<text x="198.00" y="626.30" text-anchor="middle" font-size="10.85" font-weight="bold" fill="#262626">plane number</text>
<text x="78.2" y="347.4" font-size="22" font-weight="bold" letter-spacing="1" fill="#000">c)</text>
<clipPath id="clipc"><rect x="35.6" y="321.00" width="325.4" height="275.80"/></clipPath>
<g clip-path="url(#clipc)" fill="none" stroke-linejoin="round">
<polyline points="38.1,600.0 40.6,569.3 42.5,533.2 45.5,600.0" stroke="#808080" stroke-width="2.0"/>
<g fill="#808080"></g>
<g fill="#808080"><circle cx="38.1" cy="600.0" r="1.8"/><circle cx="40.6" cy="569.3" r="1.8"/><circle cx="42.5" cy="533.2" r="1.8"/><circle cx="45.5" cy="600.0" r="1.8"/></g>
<polyline points="55.5,600.0 58.0,468.6 60.6,456.0 63.6,449.1 67.0,451.7 70.7,454.4 73.3,450.7 77.5,448.6 81.2,446.5 86.0,447.0 89.1,448.6 91.2,451.7 95.5,449.6 99.8,449.1 104.6,441.9 109.5,445.6 114.3,442.7 119.1,445.6 122.3,441.1 127.1,442.7 130.3,443.5 135.1,445.1 140.0,442.3 143.2,443.5 147.2,445.9 152.0,441.9 156.8,445.1 162.4,441.1 167.3,442.7 172.1,442.3 176.9,443.9 182.5,445.1 188.1,447.5 192.2,449.1 196.2,444.3 201.0,442.7 208.0,443.5 216.1,445.1 223.3,449.1 228.9,448.3 232.1,445.1 235.3,441.1 241.0,444.3 244.2,449.9 246.6,452.3 249.8,450.4 254.6,453.1 261.0,450.4 265.8,454.7 268.3,455.5 272.3,451.5 275.5,447.5 279.5,445.1 282.7,447.5 285.9,453.9 289.9,455.5 294.7,456.3 298.8,453.9 303.4,450.8 309.2,451.5 313.6,447.9 318.0,447.2 321.6,450.1 324.5,459.6 328.2,452.3 331.8,447.2 335.5,450.8 337.7,455.9 339.9,439.9 342.5,418.0" stroke="#808080" stroke-width="2.0"/>
<g fill="#808080"><circle cx="60.9" cy="455.2" r="1.45"/><circle cx="63.5" cy="449.4" r="1.45"/><circle cx="66.0" cy="450.9" r="1.45"/><circle cx="68.5" cy="452.8" r="1.45"/><circle cx="71.1" cy="453.9" r="1.45"/><circle cx="73.6" cy="450.6" r="1.45"/><circle cx="76.1" cy="449.3" r="1.45"/><circle cx="78.7" cy="447.9" r="1.45"/><circle cx="81.2" cy="446.5" r="1.45"/><circle cx="83.7" cy="446.8" r="1.45"/><circle cx="86.3" cy="447.1" r="1.45"/><circle cx="88.8" cy="448.4" r="1.45"/><circle cx="91.3" cy="451.6" r="1.45"/><circle cx="93.9" cy="450.4" r="1.45"/><circle cx="96.4" cy="449.5" r="1.45"/><circle cx="98.9" cy="449.2" r="1.45"/><circle cx="101.5" cy="446.6" r="1.45"/><circle cx="104.0" cy="442.8" r="1.45"/><circle cx="106.5" cy="443.4" r="1.45"/><circle cx="109.1" cy="445.3" r="1.45"/><circle cx="111.6" cy="444.3" r="1.45"/><circle cx="114.1" cy="442.8" r="1.45"/><circle cx="116.7" cy="444.1" r="1.45"/><circle cx="119.2" cy="445.5" r="1.45"/><circle cx="121.7" cy="441.9" r="1.45"/><circle cx="124.3" cy="441.8" r="1.45"/><circle cx="126.8" cy="442.6" r="1.45"/><circle cx="129.3" cy="443.3" r="1.45"/><circle cx="131.9" cy="444.0" r="1.45"/><circle cx="134.4" cy="444.9" r="1.45"/><circle cx="136.9" cy="444.1" r="1.45"/><circle cx="139.5" cy="442.6" r="1.45"/><circle cx="142.0" cy="443.0" r="1.45"/><circle cx="144.5" cy="444.3" r="1.45"/><circle cx="147.1" cy="445.8" r="1.45"/><circle cx="149.6" cy="443.9" r="1.45"/><circle cx="152.1" cy="442.0" r="1.45"/><circle cx="154.7" cy="443.7" r="1.45"/><circle cx="157.2" cy="444.8" r="1.45"/><circle cx="159.7" cy="443.0" r="1.45"/><circle cx="162.2" cy="441.2" r="1.45"/><circle cx="164.8" cy="441.9" r="1.45"/><circle cx="167.3" cy="442.7" r="1.45"/><circle cx="169.8" cy="442.5" r="1.45"/><circle cx="172.4" cy="442.4" r="1.45"/><circle cx="174.9" cy="443.2" r="1.45"/><circle cx="177.4" cy="444.0" r="1.45"/><circle cx="180.0" cy="444.6" r="1.45"/><circle cx="182.5" cy="445.1" r="1.45"/><circle cx="185.0" cy="446.2" r="1.45"/><circle cx="187.6" cy="447.3" r="1.45"/><circle cx="190.1" cy="448.3" r="1.45"/><circle cx="192.6" cy="448.6" r="1.45"/><circle cx="195.2" cy="445.5" r="1.45"/><circle cx="197.7" cy="443.8" r="1.45"/><circle cx="200.2" cy="443.0" r="1.45"/><circle cx="202.8" cy="442.9" r="1.45"/><circle cx="205.3" cy="443.2" r="1.45"/><circle cx="207.8" cy="443.5" r="1.45"/><circle cx="210.4" cy="444.0" r="1.45"/><circle cx="212.9" cy="444.5" r="1.45"/><circle cx="215.4" cy="445.0" r="1.45"/><circle cx="218.0" cy="446.1" r="1.45"/><circle cx="220.5" cy="447.5" r="1.45"/><circle cx="223.0" cy="449.0" r="1.45"/><circle cx="225.6" cy="448.8" r="1.45"/><circle cx="228.1" cy="448.4" r="1.45"/><circle cx="230.6" cy="446.6" r="1.45"/><circle cx="233.2" cy="443.8" r="1.45"/><circle cx="235.7" cy="441.3" r="1.45"/><circle cx="238.2" cy="442.8" r="1.45"/><circle cx="240.8" cy="444.2" r="1.45"/><circle cx="243.3" cy="448.3" r="1.45"/><circle cx="245.8" cy="451.5" r="1.45"/><circle cx="248.4" cy="451.2" r="1.45"/><circle cx="250.9" cy="451.0" r="1.45"/><circle cx="253.4" cy="452.4" r="1.45"/><circle cx="256.0" cy="452.5" r="1.45"/><circle cx="258.5" cy="451.5" r="1.45"/><circle cx="261.0" cy="450.4" r="1.45"/><circle cx="263.6" cy="452.7" r="1.45"/><circle cx="266.1" cy="454.8" r="1.45"/><circle cx="268.6" cy="455.2" r="1.45"/><circle cx="271.2" cy="452.6" r="1.45"/><circle cx="273.7" cy="449.7" r="1.45"/><circle cx="276.2" cy="447.1" r="1.45"/><circle cx="278.8" cy="445.5" r="1.45"/><circle cx="281.3" cy="446.5" r="1.45"/><circle cx="283.8" cy="449.8" r="1.45"/><circle cx="286.4" cy="454.1" r="1.45"/><circle cx="288.9" cy="455.1" r="1.45"/><circle cx="291.4" cy="455.8" r="1.45"/><circle cx="294.0" cy="456.2" r="1.45"/><circle cx="296.5" cy="455.2" r="1.45"/><circle cx="299.0" cy="453.7" r="1.45"/><circle cx="301.6" cy="452.0" r="1.45"/><circle cx="304.1" cy="450.9" r="1.45"/><circle cx="306.6" cy="451.2" r="1.45"/><circle cx="309.2" cy="451.5" r="1.45"/><circle cx="311.7" cy="449.5" r="1.45"/><circle cx="314.2" cy="447.8" r="1.45"/><circle cx="316.8" cy="447.4" r="1.45"/><circle cx="319.3" cy="448.2" r="1.45"/><circle cx="326.9" cy="454.9" r="1.45"/><circle cx="329.4" cy="450.6" r="1.45"/><circle cx="332.0" cy="447.4" r="1.45"/><circle cx="334.5" cy="449.8" r="1.45"/><circle cx="337.0" cy="454.3" r="1.45"/></g>
<g fill="#808080"><circle cx="55.5" cy="600.0" r="1.8"/><circle cx="58.0" cy="468.6" r="1.8"/><circle cx="60.6" cy="456.0" r="1.8"/><circle cx="63.6" cy="449.1" r="1.5"/><circle cx="67.0" cy="451.7" r="1.5"/><circle cx="70.7" cy="454.4" r="1.5"/><circle cx="73.3" cy="450.7" r="1.5"/><circle cx="77.5" cy="448.6" r="1.5"/><circle cx="81.2" cy="446.5" r="1.5"/><circle cx="86.0" cy="447.0" r="1.5"/><circle cx="89.1" cy="448.6" r="1.5"/><circle cx="91.2" cy="451.7" r="1.5"/><circle cx="95.5" cy="449.6" r="1.5"/><circle cx="99.8" cy="449.1" r="1.5"/><circle cx="104.6" cy="441.9" r="1.5"/><circle cx="109.5" cy="445.6" r="1.5"/><circle cx="114.3" cy="442.7" r="1.5"/><circle cx="119.1" cy="445.6" r="1.5"/><circle cx="122.3" cy="441.1" r="1.5"/><circle cx="127.1" cy="442.7" r="1.5"/><circle cx="130.3" cy="443.5" r="1.5"/><circle cx="135.1" cy="445.1" r="1.5"/><circle cx="140.0" cy="442.3" r="1.5"/><circle cx="143.2" cy="443.5" r="1.5"/><circle cx="147.2" cy="445.9" r="1.5"/><circle cx="152.0" cy="441.9" r="1.5"/><circle cx="156.8" cy="445.1" r="1.5"/><circle cx="162.4" cy="441.1" r="1.5"/><circle cx="167.3" cy="442.7" r="1.5"/><circle cx="172.1" cy="442.3" r="1.5"/><circle cx="176.9" cy="443.9" r="1.5"/><circle cx="182.5" cy="445.1" r="1.5"/><circle cx="188.1" cy="447.5" r="1.5"/><circle cx="192.2" cy="449.1" r="1.5"/><circle cx="196.2" cy="444.3" r="1.5"/><circle cx="201.0" cy="442.7" r="1.5"/><circle cx="208.0" cy="443.5" r="1.5"/><circle cx="216.1" cy="445.1" r="1.5"/><circle cx="223.3" cy="449.1" r="1.5"/><circle cx="228.9" cy="448.3" r="1.5"/><circle cx="232.1" cy="445.1" r="1.5"/><circle cx="235.3" cy="441.1" r="1.5"/><circle cx="241.0" cy="444.3" r="1.5"/><circle cx="244.2" cy="449.9" r="1.5"/><circle cx="246.6" cy="452.3" r="1.5"/><circle cx="249.8" cy="450.4" r="1.5"/><circle cx="254.6" cy="453.1" r="1.5"/><circle cx="261.0" cy="450.4" r="1.5"/><circle cx="265.8" cy="454.7" r="1.5"/><circle cx="268.3" cy="455.5" r="1.5"/><circle cx="272.3" cy="451.5" r="1.5"/><circle cx="275.5" cy="447.5" r="1.5"/><circle cx="279.5" cy="445.1" r="1.5"/><circle cx="282.7" cy="447.5" r="1.5"/><circle cx="285.9" cy="453.9" r="1.5"/><circle cx="289.9" cy="455.5" r="1.5"/><circle cx="294.7" cy="456.3" r="1.5"/><circle cx="298.8" cy="453.9" r="1.5"/><circle cx="303.4" cy="450.8" r="1.5"/><circle cx="309.2" cy="451.5" r="1.5"/><circle cx="313.6" cy="447.9" r="1.5"/><circle cx="318.0" cy="447.2" r="1.5"/><circle cx="321.6" cy="450.1" r="1.8"/><circle cx="324.5" cy="459.6" r="1.8"/><circle cx="328.2" cy="452.3" r="1.5"/><circle cx="331.8" cy="447.2" r="1.5"/><circle cx="335.5" cy="450.8" r="1.5"/><circle cx="337.7" cy="455.9" r="1.8"/><circle cx="339.9" cy="439.9" r="1.8"/><circle cx="342.5" cy="418.0" r="1.8"/></g>
<path d="M38.20,432.90 L40.30,434.60 L41.60,450.70 L43.20,473.90 L45.40,600.00" stroke="#0000ff" stroke-width="2"/>
<path d="M53.40,600.00 L55.50,520.00 L56.90,483.40" stroke="#0000ff" stroke-width="2"/>
<path d="M56.90,483.40 C57.43,482.27 57.97,481.14 58.50,480.20 C60.20,477.21 61.90,475.20 63.60,475.20 C64.73,475.20 65.87,477.05 67.00,478.10 C68.23,479.24 69.47,481.80 70.70,481.80 C71.90,481.80 73.10,480.18 74.30,479.20 C75.73,478.03 77.17,475.75 78.60,475.20 C80.00,474.67 81.40,474.93 82.80,474.40 C84.20,473.87 85.60,471.80 87.00,471.80 C88.40,471.80 89.80,475.00 91.20,475.00 C92.47,475.00 93.73,474.93 95.00,474.80 C96.07,474.69 97.13,473.96 98.20,473.20 C100.33,471.69 102.47,466.00 104.60,466.00 C105.97,466.00 107.33,468.00 108.70,468.00 C110.57,468.00 112.43,463.45 114.30,462.70 C115.63,462.17 116.97,462.43 118.30,461.90 C119.63,461.37 120.97,459.50 122.30,459.50 C123.63,459.50 124.97,459.50 126.30,459.50 C127.37,459.50 128.43,456.35 129.50,455.50 C130.83,454.43 132.17,454.43 133.50,453.90 C135.93,452.93 138.37,451.00 140.80,451.00 C143.20,451.00 145.60,454.63 148.00,455.50 C150.93,456.57 153.87,457.10 156.80,457.10 C158.97,457.10 161.13,452.00 163.30,452.00 C164.63,452.00 165.97,453.10 167.30,453.10 C169.43,453.10 171.57,453.10 173.70,453.10 C175.30,453.10 176.90,454.31 178.50,454.70 C180.37,455.16 182.23,454.97 184.10,455.50 C185.97,456.03 187.83,458.40 189.70,458.40 C191.07,458.40 192.43,458.23 193.80,457.90 C195.67,457.44 197.53,454.70 199.40,454.70 C201.73,454.70 204.07,456.54 206.40,457.10 C208.00,457.48 209.60,457.90 211.20,457.90 C212.83,457.90 214.47,457.63 216.10,457.10 C217.17,456.75 218.23,455.50 219.30,455.50 C220.90,455.50 222.50,458.40 224.10,458.40 C225.70,458.40 227.30,457.72 228.90,457.10 C230.50,456.48 232.10,454.70 233.70,454.70 C235.30,454.70 236.90,456.91 238.50,457.90 C240.13,458.91 241.77,460.70 243.40,460.70 C245.00,460.70 246.60,459.00 248.20,459.00 C250.33,459.00 252.47,460.01 254.60,460.30 C256.20,460.52 257.80,460.58 259.40,460.70 C261.53,460.86 263.67,461.10 265.80,461.10 C266.90,461.10 268.00,459.93 269.10,458.70 C270.43,457.20 271.77,454.10 273.10,452.30 C274.97,449.78 276.83,446.70 278.70,446.70 C279.77,446.70 280.83,446.97 281.90,447.50 C283.50,448.30 285.10,453.90 286.70,453.90 C288.33,453.90 289.97,453.70 291.60,453.70 C293.27,453.70 294.93,457.60 296.60,457.60 C298.87,457.60 301.13,449.84 303.40,448.60 C305.10,447.67 306.80,447.97 308.50,447.20 C310.67,446.22 312.83,442.80 315.00,442.80 C316.23,442.80 317.47,442.80 318.70,442.80 C320.63,442.80 322.57,447.40 324.50,447.40 C325.97,447.40 327.43,439.30 328.90,435.50 C329.87,432.99 330.83,428.20 331.80,428.20 C333.50,428.20 335.20,434.00 336.90,434.00 C337.90,434.00 338.90,426.39 339.90,420.90 C340.77,416.14 341.63,410.12 342.50,404.10" stroke="#0000ff" stroke-width="2"/>
<path d="M37.40,483.30 L40.00,450.60 L43.20,455.30 L45.00,600.00" stroke="#7e2f8e" stroke-width="2.2" stroke-dasharray="4.5 4.8"/>
<path d="M53.00,600.00 L55.00,520.00 L56.90,468.60" stroke="#7e2f8e" stroke-width="2.2" stroke-dasharray="4.5 4.8"/>
<path d="M56.90,468.60 C57.97,465.08 59.03,461.56 60.10,459.10 C61.67,455.48 63.23,452.80 64.80,452.80 C66.77,452.80 68.73,455.40 70.70,455.40 C72.27,455.40 73.83,453.11 75.40,452.30 C77.50,451.21 79.60,450.20 81.70,450.20 C83.13,450.20 84.57,450.96 86.00,451.70 C87.73,452.59 89.47,454.92 91.20,455.40 C92.63,455.80 94.07,456.00 95.50,456.00 C96.93,456.00 98.37,454.92 99.80,453.90 C101.67,452.57 103.53,448.71 105.40,448.30 C107.83,447.77 110.27,447.50 112.70,447.50 C115.10,447.50 117.50,449.90 119.90,449.90 C122.83,449.90 125.77,449.40 128.70,449.40 C130.83,449.40 132.97,451.50 135.10,451.50 C137.00,451.50 138.90,450.40 140.80,450.40 C143.20,450.40 145.60,453.46 148.00,453.90 C150.93,454.43 153.87,454.70 156.80,454.70 C159.23,454.70 161.67,450.40 164.10,450.40 C166.23,450.40 168.37,451.72 170.50,452.30 C172.63,452.88 174.77,453.41 176.90,453.90 C179.57,454.51 182.23,454.54 184.90,455.50 C187.07,456.28 189.23,458.70 191.40,458.70 C193.00,458.70 194.60,457.10 196.20,456.30 C197.80,455.50 199.40,453.90 201.00,453.90 C202.80,453.90 204.60,455.04 206.40,455.50 C208.53,456.04 210.67,456.80 212.80,456.80 C214.97,456.80 217.13,455.20 219.30,455.20 C222.50,455.20 225.70,455.50 228.90,455.50 C231.03,455.50 233.17,451.50 235.30,451.50 C238.00,451.50 240.70,454.60 243.40,455.50 C246.60,456.57 249.80,456.51 253.00,457.10 C255.67,457.59 258.33,458.70 261.00,458.70 C263.70,458.70 266.40,458.17 269.10,457.10 C270.43,456.57 271.77,454.30 273.10,453.10 C274.43,451.90 275.77,449.90 277.10,449.90 C278.23,449.90 279.37,451.02 280.50,452.00 C281.30,452.69 282.10,453.68 282.90,454.50 C284.87,456.52 286.83,458.82 288.80,460.30 C291.70,462.48 294.60,463.90 297.50,463.90 C299.70,463.90 301.90,457.75 304.10,456.60 C306.53,455.33 308.97,454.70 311.40,454.70 C314.30,454.70 317.20,455.10 320.10,455.90 C321.57,456.30 323.03,464.70 324.50,464.70 C325.73,464.70 326.97,458.63 328.20,457.40 C330.13,455.47 332.07,454.50 334.00,454.50 C335.23,454.50 336.47,458.80 337.70,458.80 C338.43,458.80 339.17,446.24 339.90,441.30 C340.60,436.59 341.30,433.09 342.00,429.60" stroke="#7e2f8e" stroke-width="2.2" stroke-dasharray="4.5 4.8"/>
<line x1="38.2" y1="458.90" x2="342.5" y2="458.90" stroke="#000" stroke-width="2"/>
</g>
<text x="250.1" y="506.3" font-size="10.6" font-weight="bold" fill="#111">Posterior array</text>
<line x1="237.4" y1="518.9" x2="260.7" y2="518.9" stroke="#808080" stroke-width="1.7"/>
<circle cx="249.1" cy="518.9" r="1.5" fill="#808080"/>
<text x="263.1" y="522.5" font-size="9.8" font-weight="bold" fill="#111">NAC</text>
<line x1="237.4" y1="534.7" x2="260.7" y2="534.7" stroke="#0000ff" stroke-width="2"/>
<text x="263.1" y="538.3" font-size="9.8" font-weight="bold" fill="#111">AC-TX-based</text>
<line x1="237.4" y1="549.6" x2="260.7" y2="549.6" stroke="#7e2f8e" stroke-width="2" stroke-dasharray="4.5 4.8"/>
<text x="263.1" y="553.2" font-size="9.8" font-weight="bold" fill="#111">AC-CT-based</text>
<line x1="237.4" y1="564.6" x2="260.7" y2="564.6" stroke="#000" stroke-width="2"/>
<text x="263.1" y="568.2" font-size="9.8" font-weight="bold" fill="#111">Blank</text>
<line x1="36.70" y1="906.53" x2="358.0" y2="906.53" stroke="#d9d9d9" stroke-width="0.9" stroke-dasharray="1.1 1.4"/>
<line x1="36.70" y1="899.66" x2="358.0" y2="899.66" stroke="#d9d9d9" stroke-width="0.9" stroke-dasharray="1.1 1.4"/>
<line x1="36.70" y1="892.79" x2="358.0" y2="892.79" stroke="#d9d9d9" stroke-width="0.9" stroke-dasharray="1.1 1.4"/>
<line x1="36.70" y1="885.92" x2="358.0" y2="885.92" stroke="#d9d9d9" stroke-width="0.9" stroke-dasharray="1.1 1.4"/>
<line x1="36.70" y1="879.05" x2="358.0" y2="879.05" stroke="#d9d9d9" stroke-width="0.9" stroke-dasharray="1.1 1.4"/>
<line x1="36.70" y1="872.18" x2="358.0" y2="872.18" stroke="#d9d9d9" stroke-width="0.9" stroke-dasharray="1.1 1.4"/>
<line x1="36.70" y1="865.31" x2="358.0" y2="865.31" stroke="#d9d9d9" stroke-width="0.9" stroke-dasharray="1.1 1.4"/>
<line x1="36.70" y1="858.44" x2="358.0" y2="858.44" stroke="#d9d9d9" stroke-width="0.9" stroke-dasharray="1.1 1.4"/>
<line x1="36.70" y1="851.57" x2="358.0" y2="851.57" stroke="#d9d9d9" stroke-width="0.9" stroke-dasharray="1.1 1.4"/>
<line x1="36.70" y1="844.70" x2="358.0" y2="844.70" stroke="#d9d9d9" stroke-width="0.9" stroke-dasharray="1.1 1.4"/>
<line x1="36.70" y1="837.83" x2="358.0" y2="837.83" stroke="#d9d9d9" stroke-width="0.9" stroke-dasharray="1.1 1.4"/>
<line x1="36.70" y1="830.96" x2="358.0" y2="830.96" stroke="#d9d9d9" stroke-width="0.9" stroke-dasharray="1.1 1.4"/>
<line x1="36.70" y1="824.09" x2="358.0" y2="824.09" stroke="#d9d9d9" stroke-width="0.9" stroke-dasharray="1.1 1.4"/>
<line x1="36.70" y1="817.22" x2="358.0" y2="817.22" stroke="#d9d9d9" stroke-width="0.9" stroke-dasharray="1.1 1.4"/>
<line x1="36.70" y1="810.35" x2="358.0" y2="810.35" stroke="#d9d9d9" stroke-width="0.9" stroke-dasharray="1.1 1.4"/>
<line x1="36.70" y1="803.48" x2="358.0" y2="803.48" stroke="#d9d9d9" stroke-width="0.9" stroke-dasharray="1.1 1.4"/>
<line x1="36.70" y1="796.61" x2="358.0" y2="796.61" stroke="#d9d9d9" stroke-width="0.9" stroke-dasharray="1.1 1.4"/>
<line x1="36.70" y1="789.74" x2="358.0" y2="789.74" stroke="#d9d9d9" stroke-width="0.9" stroke-dasharray="1.1 1.4"/>
<line x1="36.70" y1="782.87" x2="358.0" y2="782.87" stroke="#d9d9d9" stroke-width="0.9" stroke-dasharray="1.1 1.4"/>
<line x1="36.70" y1="776.00" x2="358.0" y2="776.00" stroke="#d9d9d9" stroke-width="0.9" stroke-dasharray="1.1 1.4"/>
<line x1="36.70" y1="769.13" x2="358.0" y2="769.13" stroke="#d9d9d9" stroke-width="0.9" stroke-dasharray="1.1 1.4"/>
<line x1="36.70" y1="762.26" x2="358.0" y2="762.26" stroke="#d9d9d9" stroke-width="0.9" stroke-dasharray="1.1 1.4"/>
<line x1="36.70" y1="755.39" x2="358.0" y2="755.39" stroke="#d9d9d9" stroke-width="0.9" stroke-dasharray="1.1 1.4"/>
<line x1="36.70" y1="748.52" x2="358.0" y2="748.52" stroke="#d9d9d9" stroke-width="0.9" stroke-dasharray="1.1 1.4"/>
<line x1="36.70" y1="741.65" x2="358.0" y2="741.65" stroke="#d9d9d9" stroke-width="0.9" stroke-dasharray="1.1 1.4"/>
<line x1="36.70" y1="734.78" x2="358.0" y2="734.78" stroke="#d9d9d9" stroke-width="0.9" stroke-dasharray="1.1 1.4"/>
<line x1="36.70" y1="727.91" x2="358.0" y2="727.91" stroke="#d9d9d9" stroke-width="0.9" stroke-dasharray="1.1 1.4"/>
<line x1="36.70" y1="721.04" x2="358.0" y2="721.04" stroke="#d9d9d9" stroke-width="0.9" stroke-dasharray="1.1 1.4"/>
<line x1="36.70" y1="714.17" x2="358.0" y2="714.17" stroke="#d9d9d9" stroke-width="0.9" stroke-dasharray="1.1 1.4"/>
<line x1="36.70" y1="707.30" x2="358.0" y2="707.30" stroke="#d9d9d9" stroke-width="0.9" stroke-dasharray="1.1 1.4"/>
<line x1="36.70" y1="700.43" x2="358.0" y2="700.43" stroke="#d9d9d9" stroke-width="0.9" stroke-dasharray="1.1 1.4"/>
<line x1="36.70" y1="693.56" x2="358.0" y2="693.56" stroke="#d9d9d9" stroke-width="0.9" stroke-dasharray="1.1 1.4"/>
<line x1="36.70" y1="686.69" x2="358.0" y2="686.69" stroke="#d9d9d9" stroke-width="0.9" stroke-dasharray="1.1 1.4"/>
<line x1="36.70" y1="679.82" x2="358.0" y2="679.82" stroke="#d9d9d9" stroke-width="0.9" stroke-dasharray="1.1 1.4"/>
<line x1="36.70" y1="672.95" x2="358.0" y2="672.95" stroke="#d9d9d9" stroke-width="0.9" stroke-dasharray="1.1 1.4"/>
<line x1="36.70" y1="666.08" x2="358.0" y2="666.08" stroke="#d9d9d9" stroke-width="0.9" stroke-dasharray="1.1 1.4"/>
<line x1="36.70" y1="659.21" x2="358.0" y2="659.21" stroke="#d9d9d9" stroke-width="0.9" stroke-dasharray="1.1 1.4"/>
<line x1="36.70" y1="652.34" x2="358.0" y2="652.34" stroke="#d9d9d9" stroke-width="0.9" stroke-dasharray="1.1 1.4"/>
<line x1="36.70" y1="645.47" x2="358.0" y2="645.47" stroke="#d9d9d9" stroke-width="0.9" stroke-dasharray="1.1 1.4"/>
<line x1="36.70" y1="638.60" x2="358.0" y2="638.60" stroke="#d9d9d9" stroke-width="0.9" stroke-dasharray="1.1 1.4"/>
<line x1="31.70" y1="913.40" x2="358.0" y2="913.40" stroke="#606060" stroke-width="1.2"/>
<line x1="35.20" y1="910.40" x2="35.20" y2="916.90" stroke="#444" stroke-width="1.1"/>
<text x="35.20" y="929.60" text-anchor="middle" font-size="9.2" font-weight="bold" fill="#262626">0</text>
<line x1="85.65" y1="910.40" x2="85.65" y2="916.90" stroke="#444" stroke-width="1.1"/>
<text x="85.65" y="929.60" text-anchor="middle" font-size="9.2" font-weight="bold" fill="#262626">20</text>
<line x1="136.10" y1="910.40" x2="136.10" y2="916.90" stroke="#444" stroke-width="1.1"/>
<text x="136.10" y="929.60" text-anchor="middle" font-size="9.2" font-weight="bold" fill="#262626">40</text>
<line x1="186.55" y1="910.40" x2="186.55" y2="916.90" stroke="#444" stroke-width="1.1"/>
<text x="186.55" y="929.60" text-anchor="middle" font-size="9.2" font-weight="bold" fill="#262626">60</text>
<line x1="237.00" y1="910.40" x2="237.00" y2="916.90" stroke="#444" stroke-width="1.1"/>
<text x="237.00" y="929.60" text-anchor="middle" font-size="9.2" font-weight="bold" fill="#262626">80</text>
<line x1="287.45" y1="910.40" x2="287.45" y2="916.90" stroke="#444" stroke-width="1.1"/>
<text x="287.45" y="929.60" text-anchor="middle" font-size="9.2" font-weight="bold" fill="#262626">100</text>
<line x1="337.90" y1="910.40" x2="337.90" y2="916.90" stroke="#444" stroke-width="1.1"/>
<text x="337.90" y="929.60" text-anchor="middle" font-size="9.2" font-weight="bold" fill="#262626">120</text>
<line x1="35.20" y1="638.60" x2="35.20" y2="916.90" stroke="#555" stroke-width="1.15"/>
<line x1="31.60" y1="913.40" x2="38.40" y2="913.40" stroke="#555" stroke-width="1.2"/>
<text x="28.00" y="917.10" text-anchor="end" font-size="9.2" font-weight="bold" fill="#262626">-20</text>
<line x1="33.40" y1="906.53" x2="37.00" y2="906.53" stroke="#555" stroke-width="1.1"/>
<line x1="33.40" y1="899.66" x2="37.00" y2="899.66" stroke="#555" stroke-width="1.1"/>
<line x1="33.40" y1="892.79" x2="37.00" y2="892.79" stroke="#555" stroke-width="1.1"/>
<line x1="33.40" y1="885.92" x2="37.00" y2="885.92" stroke="#555" stroke-width="1.1"/>
<line x1="31.60" y1="879.05" x2="38.40" y2="879.05" stroke="#555" stroke-width="1.2"/>
<text x="28.00" y="882.75" text-anchor="end" font-size="9.2" font-weight="bold" fill="#262626">-15</text>
<line x1="33.40" y1="872.18" x2="37.00" y2="872.18" stroke="#555" stroke-width="1.1"/>
<line x1="33.40" y1="865.31" x2="37.00" y2="865.31" stroke="#555" stroke-width="1.1"/>
<line x1="33.40" y1="858.44" x2="37.00" y2="858.44" stroke="#555" stroke-width="1.1"/>
<line x1="33.40" y1="851.57" x2="37.00" y2="851.57" stroke="#555" stroke-width="1.1"/>
<line x1="31.60" y1="844.70" x2="38.40" y2="844.70" stroke="#555" stroke-width="1.2"/>
<text x="28.00" y="848.40" text-anchor="end" font-size="9.2" font-weight="bold" fill="#262626">-10</text>
<line x1="33.40" y1="837.83" x2="37.00" y2="837.83" stroke="#555" stroke-width="1.1"/>
<line x1="33.40" y1="830.96" x2="37.00" y2="830.96" stroke="#555" stroke-width="1.1"/>
<line x1="33.40" y1="824.09" x2="37.00" y2="824.09" stroke="#555" stroke-width="1.1"/>
<line x1="33.40" y1="817.22" x2="37.00" y2="817.22" stroke="#555" stroke-width="1.1"/>
<line x1="31.60" y1="810.35" x2="38.40" y2="810.35" stroke="#555" stroke-width="1.2"/>
<text x="28.00" y="814.05" text-anchor="end" font-size="9.2" font-weight="bold" fill="#262626">-5</text>
<line x1="33.40" y1="803.48" x2="37.00" y2="803.48" stroke="#555" stroke-width="1.1"/>
<line x1="33.40" y1="796.61" x2="37.00" y2="796.61" stroke="#555" stroke-width="1.1"/>
<line x1="33.40" y1="789.74" x2="37.00" y2="789.74" stroke="#555" stroke-width="1.1"/>
<line x1="33.40" y1="782.87" x2="37.00" y2="782.87" stroke="#555" stroke-width="1.1"/>
<line x1="31.60" y1="776.00" x2="38.40" y2="776.00" stroke="#555" stroke-width="1.2"/>
<text x="28.00" y="779.70" text-anchor="end" font-size="9.2" font-weight="bold" fill="#262626">0</text>
<line x1="33.40" y1="769.13" x2="37.00" y2="769.13" stroke="#555" stroke-width="1.1"/>
<line x1="33.40" y1="762.26" x2="37.00" y2="762.26" stroke="#555" stroke-width="1.1"/>
<line x1="33.40" y1="755.39" x2="37.00" y2="755.39" stroke="#555" stroke-width="1.1"/>
<line x1="33.40" y1="748.52" x2="37.00" y2="748.52" stroke="#555" stroke-width="1.1"/>
<line x1="31.60" y1="741.65" x2="38.40" y2="741.65" stroke="#555" stroke-width="1.2"/>
<text x="28.00" y="745.35" text-anchor="end" font-size="9.2" font-weight="bold" fill="#262626">5</text>
<line x1="33.40" y1="734.78" x2="37.00" y2="734.78" stroke="#555" stroke-width="1.1"/>
<line x1="33.40" y1="727.91" x2="37.00" y2="727.91" stroke="#555" stroke-width="1.1"/>
<line x1="33.40" y1="721.04" x2="37.00" y2="721.04" stroke="#555" stroke-width="1.1"/>
<line x1="33.40" y1="714.17" x2="37.00" y2="714.17" stroke="#555" stroke-width="1.1"/>
<line x1="31.60" y1="707.30" x2="38.40" y2="707.30" stroke="#555" stroke-width="1.2"/>
<text x="28.00" y="711.00" text-anchor="end" font-size="9.2" font-weight="bold" fill="#262626">10</text>
<line x1="33.40" y1="700.43" x2="37.00" y2="700.43" stroke="#555" stroke-width="1.1"/>
<line x1="33.40" y1="693.56" x2="37.00" y2="693.56" stroke="#555" stroke-width="1.1"/>
<line x1="33.40" y1="686.69" x2="37.00" y2="686.69" stroke="#555" stroke-width="1.1"/>
<line x1="33.40" y1="679.82" x2="37.00" y2="679.82" stroke="#555" stroke-width="1.1"/>
<line x1="31.60" y1="672.95" x2="38.40" y2="672.95" stroke="#555" stroke-width="1.2"/>
<text x="28.00" y="676.65" text-anchor="end" font-size="9.2" font-weight="bold" fill="#262626">15</text>
<line x1="33.40" y1="666.08" x2="37.00" y2="666.08" stroke="#555" stroke-width="1.1"/>
<line x1="33.40" y1="659.21" x2="37.00" y2="659.21" stroke="#555" stroke-width="1.1"/>
<line x1="33.40" y1="652.34" x2="37.00" y2="652.34" stroke="#555" stroke-width="1.1"/>
<line x1="33.40" y1="645.47" x2="37.00" y2="645.47" stroke="#555" stroke-width="1.1"/>
<line x1="31.60" y1="638.60" x2="38.40" y2="638.60" stroke="#555" stroke-width="1.2"/>
<text x="28.00" y="642.30" text-anchor="end" font-size="9.2" font-weight="bold" fill="#262626">20</text>
<text transform="translate(10.0,776.60) rotate(-90)" text-anchor="middle" font-size="10.9" font-weight="bold" fill="#262626">RPD (%)</text>
<text x="198.00" y="943.40" text-anchor="middle" font-size="10.85" font-weight="bold" fill="#262626">plane number</text>
<text x="78.0" y="659.1" font-size="22" font-weight="bold" letter-spacing="1" fill="#000">e)</text>
<clipPath id="clipe"><rect x="35.2" y="638.10" width="325.8" height="275.80"/></clipPath>
<g clip-path="url(#clipe)" fill="none" stroke-linejoin="round">
<polyline points="43.0,918.0 44.6,881.3 47.3,705.5 48.4,630.0" stroke="#808080" stroke-width="2.0"/>
<g fill="#808080"></g>
<g fill="#808080"><circle cx="43.0" cy="918.0" r="1.8"/><circle cx="44.6" cy="881.3" r="1.8"/><circle cx="47.3" cy="705.5" r="1.8"/><circle cx="48.4" cy="630.0" r="1.8"/></g>
<polyline points="54.8,630.0 55.3,679.0 57.2,877.7 57.8,918.0" stroke="#808080" stroke-width="2.0"/>
<g fill="#808080"></g>
<g fill="#808080"><circle cx="54.8" cy="630.0" r="1.8"/><circle cx="55.3" cy="679.0" r="1.8"/><circle cx="57.2" cy="877.7" r="1.8"/><circle cx="57.8" cy="918.0" r="1.8"/></g>
<polyline points="61.3,918.0 64.5,850.0 67.5,748.3 70.6,739.2 74.4,730.7 79.0,728.4 82.8,730.0 86.7,726.9 90.5,720.0 95.1,725.4 98.2,722.0 101.4,723.1 103.0,727.9 106.2,728.7 109.5,726.3 112.7,725.5 115.9,719.1 119.1,716.7 123.1,715.1 127.1,713.0 133.5,707.5 138.4,708.7 141.6,706.6 144.8,708.7 149.6,714.6 154.4,715.9 158.4,719.9 162.4,719.9 166.5,721.5 169.7,719.9 173.7,713.5 178.5,714.6 182.5,715.1 185.7,718.3 191.4,717.5 195.4,719.1 200.0,718.8 203.2,717.5 208.0,715.6 211.2,717.5 214.5,720.7 219.3,719.1 223.3,720.7 228.1,719.9 233.7,718.8 238.5,721.5 242.1,727.9 245.0,723.1 249.8,719.1 254.6,723.6 259.4,724.7 264.2,725.2 267.4,726.8 271.5,730.0 275.5,732.7 278.7,731.1 283.5,726.3 287.5,722.3 291.5,720.7 293.9,722.3 297.5,730.6 300.7,733.1 305.1,731.2 307.7,735.7 310.9,736.3 312.8,733.1 315.3,735.0 318.5,733.7 321.0,730.8 322.9,735.0 325.4,737.6 328.0,734.4 331.1,731.8 333.7,737.6 335.3,748.6 337.1,740.7 338.7,739.5 341.3,731.8" stroke="#808080" stroke-width="2.0"/>
<g fill="#808080"><circle cx="73.0" cy="733.7" r="1.45"/><circle cx="75.6" cy="730.1" r="1.45"/><circle cx="78.1" cy="728.9" r="1.45"/><circle cx="80.6" cy="729.1" r="1.45"/><circle cx="83.1" cy="729.7" r="1.45"/><circle cx="85.7" cy="727.7" r="1.45"/><circle cx="88.2" cy="724.2" r="1.45"/><circle cx="90.7" cy="720.2" r="1.45"/><circle cx="93.2" cy="723.2" r="1.45"/><circle cx="95.7" cy="724.7" r="1.45"/><circle cx="98.3" cy="722.0" r="1.45"/><circle cx="100.8" cy="722.9" r="1.45"/><circle cx="103.3" cy="728.0" r="1.45"/><circle cx="105.8" cy="728.6" r="1.45"/><circle cx="108.4" cy="727.1" r="1.45"/><circle cx="110.9" cy="726.0" r="1.45"/><circle cx="113.4" cy="724.1" r="1.45"/><circle cx="115.9" cy="719.1" r="1.45"/><circle cx="118.4" cy="717.2" r="1.45"/><circle cx="121.0" cy="716.0" r="1.45"/><circle cx="123.5" cy="714.9" r="1.45"/><circle cx="126.0" cy="713.6" r="1.45"/><circle cx="128.5" cy="711.8" r="1.45"/><circle cx="131.1" cy="709.6" r="1.45"/><circle cx="133.6" cy="707.5" r="1.45"/><circle cx="136.1" cy="708.1" r="1.45"/><circle cx="138.6" cy="708.6" r="1.45"/><circle cx="141.1" cy="706.9" r="1.45"/><circle cx="143.7" cy="708.0" r="1.45"/><circle cx="146.2" cy="710.4" r="1.45"/><circle cx="148.7" cy="713.5" r="1.45"/><circle cx="151.2" cy="715.0" r="1.45"/><circle cx="153.8" cy="715.7" r="1.45"/><circle cx="156.3" cy="717.8" r="1.45"/><circle cx="158.8" cy="719.9" r="1.45"/><circle cx="161.3" cy="719.9" r="1.45"/><circle cx="163.8" cy="720.5" r="1.45"/><circle cx="166.4" cy="721.4" r="1.45"/><circle cx="168.9" cy="720.3" r="1.45"/><circle cx="171.4" cy="717.2" r="1.45"/><circle cx="173.9" cy="713.6" r="1.45"/><circle cx="176.5" cy="714.1" r="1.45"/><circle cx="179.0" cy="714.7" r="1.45"/><circle cx="181.5" cy="715.0" r="1.45"/><circle cx="184.0" cy="716.6" r="1.45"/><circle cx="186.6" cy="718.2" r="1.45"/><circle cx="189.1" cy="717.8" r="1.45"/><circle cx="191.6" cy="717.6" r="1.45"/><circle cx="194.1" cy="718.6" r="1.45"/><circle cx="196.6" cy="719.0" r="1.45"/><circle cx="199.2" cy="718.9" r="1.45"/><circle cx="201.7" cy="718.1" r="1.45"/><circle cx="204.2" cy="717.1" r="1.45"/><circle cx="206.7" cy="716.1" r="1.45"/><circle cx="209.3" cy="716.3" r="1.45"/><circle cx="211.8" cy="718.1" r="1.45"/><circle cx="214.3" cy="720.5" r="1.45"/><circle cx="216.8" cy="719.9" r="1.45"/><circle cx="219.3" cy="719.1" r="1.45"/><circle cx="221.9" cy="720.1" r="1.45"/><circle cx="224.4" cy="720.5" r="1.45"/><circle cx="226.9" cy="720.1" r="1.45"/><circle cx="229.4" cy="719.6" r="1.45"/><circle cx="232.0" cy="719.1" r="1.45"/><circle cx="234.5" cy="719.2" r="1.45"/><circle cx="237.0" cy="720.7" r="1.45"/><circle cx="239.5" cy="723.3" r="1.45"/><circle cx="242.0" cy="727.8" r="1.45"/><circle cx="244.6" cy="723.8" r="1.45"/><circle cx="247.1" cy="721.4" r="1.45"/><circle cx="249.6" cy="719.3" r="1.45"/><circle cx="252.1" cy="721.3" r="1.45"/><circle cx="254.7" cy="723.6" r="1.45"/><circle cx="257.2" cy="724.2" r="1.45"/><circle cx="259.7" cy="724.7" r="1.45"/><circle cx="262.2" cy="725.0" r="1.45"/><circle cx="264.7" cy="725.5" r="1.45"/><circle cx="267.3" cy="726.7" r="1.45"/><circle cx="269.8" cy="728.7" r="1.45"/><circle cx="272.3" cy="730.6" r="1.45"/><circle cx="274.8" cy="732.3" r="1.45"/><circle cx="277.4" cy="731.8" r="1.45"/><circle cx="279.9" cy="729.9" r="1.45"/><circle cx="282.4" cy="727.4" r="1.45"/><circle cx="284.9" cy="724.9" r="1.45"/><circle cx="287.4" cy="722.3" r="1.45"/><circle cx="290.0" cy="721.3" r="1.45"/><circle cx="292.5" cy="721.4" r="1.45"/><circle cx="295.0" cy="724.9" r="1.45"/><circle cx="297.5" cy="730.6" r="1.45"/><circle cx="300.1" cy="732.6" r="1.45"/><circle cx="302.6" cy="732.3" r="1.45"/><circle cx="305.1" cy="731.2" r="1.45"/><circle cx="307.6" cy="735.6" r="1.45"/><circle cx="310.2" cy="736.2" r="1.45"/><circle cx="312.7" cy="733.3" r="1.45"/><circle cx="315.2" cy="734.9" r="1.45"/><circle cx="317.7" cy="734.0" r="1.45"/><circle cx="320.2" cy="731.7" r="1.45"/><circle cx="322.8" cy="734.7" r="1.45"/><circle cx="325.3" cy="737.5" r="1.45"/><circle cx="327.8" cy="734.6" r="1.45"/><circle cx="330.3" cy="732.4" r="1.45"/><circle cx="332.9" cy="735.7" r="1.45"/><circle cx="337.9" cy="740.1" r="1.45"/></g>
<g fill="#808080"><circle cx="61.3" cy="918.0" r="1.8"/><circle cx="64.5" cy="850.0" r="1.8"/><circle cx="67.5" cy="748.3" r="1.8"/><circle cx="70.6" cy="739.2" r="1.5"/><circle cx="74.4" cy="730.7" r="1.5"/><circle cx="79.0" cy="728.4" r="1.5"/><circle cx="82.8" cy="730.0" r="1.5"/><circle cx="86.7" cy="726.9" r="1.5"/><circle cx="90.5" cy="720.0" r="1.5"/><circle cx="95.1" cy="725.4" r="1.5"/><circle cx="98.2" cy="722.0" r="1.5"/><circle cx="101.4" cy="723.1" r="1.5"/><circle cx="103.0" cy="727.9" r="1.5"/><circle cx="106.2" cy="728.7" r="1.5"/><circle cx="109.5" cy="726.3" r="1.5"/><circle cx="112.7" cy="725.5" r="1.5"/><circle cx="115.9" cy="719.1" r="1.5"/><circle cx="119.1" cy="716.7" r="1.5"/><circle cx="123.1" cy="715.1" r="1.5"/><circle cx="127.1" cy="713.0" r="1.5"/><circle cx="133.5" cy="707.5" r="1.5"/><circle cx="138.4" cy="708.7" r="1.5"/><circle cx="141.6" cy="706.6" r="1.5"/><circle cx="144.8" cy="708.7" r="1.5"/><circle cx="149.6" cy="714.6" r="1.5"/><circle cx="154.4" cy="715.9" r="1.5"/><circle cx="158.4" cy="719.9" r="1.5"/><circle cx="162.4" cy="719.9" r="1.5"/><circle cx="166.5" cy="721.5" r="1.5"/><circle cx="169.7" cy="719.9" r="1.5"/><circle cx="173.7" cy="713.5" r="1.5"/><circle cx="178.5" cy="714.6" r="1.5"/><circle cx="182.5" cy="715.1" r="1.5"/><circle cx="185.7" cy="718.3" r="1.5"/><circle cx="191.4" cy="717.5" r="1.5"/><circle cx="195.4" cy="719.1" r="1.5"/><circle cx="200.0" cy="718.8" r="1.5"/><circle cx="203.2" cy="717.5" r="1.5"/><circle cx="208.0" cy="715.6" r="1.5"/><circle cx="211.2" cy="717.5" r="1.5"/><circle cx="214.5" cy="720.7" r="1.5"/><circle cx="219.3" cy="719.1" r="1.5"/><circle cx="223.3" cy="720.7" r="1.5"/><circle cx="228.1" cy="719.9" r="1.5"/><circle cx="233.7" cy="718.8" r="1.5"/><circle cx="238.5" cy="721.5" r="1.5"/><circle cx="242.1" cy="727.9" r="1.5"/><circle cx="245.0" cy="723.1" r="1.5"/><circle cx="249.8" cy="719.1" r="1.5"/><circle cx="254.6" cy="723.6" r="1.5"/><circle cx="259.4" cy="724.7" r="1.5"/><circle cx="264.2" cy="725.2" r="1.5"/><circle cx="267.4" cy="726.8" r="1.5"/><circle cx="271.5" cy="730.0" r="1.5"/><circle cx="275.5" cy="732.7" r="1.5"/><circle cx="278.7" cy="731.1" r="1.5"/><circle cx="283.5" cy="726.3" r="1.5"/><circle cx="287.5" cy="722.3" r="1.5"/><circle cx="291.5" cy="720.7" r="1.5"/><circle cx="293.9" cy="722.3" r="1.5"/><circle cx="297.5" cy="730.6" r="1.5"/><circle cx="300.7" cy="733.1" r="1.5"/><circle cx="305.1" cy="731.2" r="1.5"/><circle cx="307.7" cy="735.7" r="1.5"/><circle cx="310.9" cy="736.3" r="1.5"/><circle cx="312.8" cy="733.1" r="1.5"/><circle cx="315.3" cy="735.0" r="1.5"/><circle cx="318.5" cy="733.7" r="1.5"/><circle cx="321.0" cy="730.8" r="1.5"/><circle cx="322.9" cy="735.0" r="1.5"/><circle cx="325.4" cy="737.6" r="1.5"/><circle cx="328.0" cy="734.4" r="1.5"/><circle cx="331.1" cy="731.8" r="1.5"/><circle cx="333.7" cy="737.6" r="1.8"/><circle cx="335.3" cy="748.6" r="1.8"/><circle cx="337.1" cy="740.7" r="1.8"/><circle cx="338.7" cy="739.5" r="1.5"/><circle cx="341.3" cy="731.8" r="1.5"/></g>
<path d="M56.50,630.00 L57.20,700.00 L60.10,904.60 L63.50,840.00 L66.40,770.00 L67.50,721.50" stroke="#0000ff" stroke-width="2"/>
<path d="M67.50,721.50 C68.50,726.65 69.50,731.79 70.50,737.00 C71.80,743.77 73.10,752.07 74.40,757.50 C75.77,763.21 77.13,766.47 78.50,770.00 C79.93,773.70 81.37,779.00 82.80,779.00 C84.20,779.00 85.60,777.76 87.00,777.00 C88.43,776.23 89.87,774.40 91.30,774.40 C92.53,774.40 93.77,776.10 95.00,776.10 C96.07,776.10 97.13,775.30 98.20,775.30 C100.33,775.30 102.47,779.30 104.60,779.30 C106.77,779.30 108.93,779.03 111.10,778.50 C112.60,778.13 114.10,772.40 115.60,772.40 C116.50,772.40 117.40,775.50 118.30,776.10 C119.90,777.17 121.50,777.70 123.10,777.70 C124.70,777.70 126.30,777.43 127.90,776.90 C129.77,776.28 131.63,769.56 133.50,768.90 C135.93,768.03 138.37,767.60 140.80,767.60 C143.20,767.60 145.60,772.57 148.00,773.40 C150.13,774.13 152.27,774.50 154.40,774.50 C157.07,774.50 159.73,772.10 162.40,772.10 C164.57,772.10 166.73,772.90 168.90,772.90 C169.70,772.90 170.50,770.50 171.30,770.50 C172.63,770.50 173.97,773.16 175.30,773.70 C177.43,774.57 179.57,774.33 181.70,775.00 C183.83,775.67 185.97,777.70 188.10,777.70 C190.53,777.70 192.97,775.30 195.40,775.30 C196.93,775.30 198.47,775.30 200.00,775.30 C201.07,775.30 202.13,774.73 203.20,774.50 C204.80,774.15 206.40,773.70 208.00,773.70 C209.60,773.70 211.20,775.58 212.80,776.10 C214.43,776.63 216.07,776.68 217.70,776.90 C220.63,777.30 223.57,777.70 226.50,777.70 C228.37,777.70 230.23,774.50 232.10,774.50 C233.70,774.50 235.30,775.03 236.90,776.10 C238.80,777.37 240.70,783.30 242.60,783.30 C243.93,783.30 245.27,782.85 246.60,782.50 C248.20,782.08 249.80,780.90 251.40,780.90 C253.00,780.90 254.60,782.50 256.20,782.50 C257.80,782.50 259.40,782.50 261.00,782.50 C262.87,782.50 264.73,782.79 266.60,783.30 C268.23,783.75 269.87,784.62 271.50,785.20 C272.83,785.67 274.17,786.50 275.50,786.50 C277.10,786.50 278.70,783.82 280.30,781.70 C281.63,779.93 282.97,776.80 284.30,775.30 C285.37,774.10 286.43,773.43 287.50,772.90 C288.57,772.37 289.63,772.10 290.70,772.10 C291.77,772.10 292.83,774.16 293.90,775.30 C295.53,777.04 297.17,781.00 298.80,781.00 C299.87,781.00 300.93,779.49 302.00,778.80 C303.03,778.13 304.07,776.90 305.10,776.90 C305.97,776.90 306.83,778.10 307.70,778.10 C308.53,778.10 309.37,777.56 310.20,776.90 C311.27,776.06 312.33,773.70 313.40,773.10 C314.23,772.63 315.07,772.40 315.90,772.40 C317.40,772.40 318.90,773.03 320.40,774.30 C321.43,775.17 322.47,778.19 323.50,779.40 C324.57,780.65 325.63,781.60 326.70,781.60 C327.97,781.60 329.23,780.00 330.50,780.00 C331.33,780.00 332.17,783.20 333.00,783.20 C333.87,783.20 334.73,783.00 335.60,782.60 C336.00,782.42 336.40,767.89 336.80,761.00 C337.43,750.09 338.07,740.75 338.70,730.60 C339.33,720.45 339.97,710.27 340.60,700.10" stroke="#0000ff" stroke-width="2"/>
<path d="M55.00,630.00 L58.50,918.00" stroke="#7e2f8e" stroke-width="2.2" stroke-dasharray="4.5 4.8"/>
<path d="M63.50,918.00 L66.00,769.80" stroke="#7e2f8e" stroke-width="2.2" stroke-dasharray="4.5 4.8"/>
<path d="M66.00,769.80 C66.50,770.81 67.00,771.82 67.50,772.80 C69.00,775.74 70.50,779.96 72.00,781.10 C73.67,782.37 75.33,782.48 77.00,783.00 C78.77,783.56 80.53,784.30 82.30,784.30 C84.93,784.30 87.57,780.30 90.20,780.30 C91.80,780.30 93.40,783.30 95.00,783.30 C96.07,783.30 97.13,782.50 98.20,782.50 C99.80,782.50 101.40,787.30 103.00,787.30 C105.70,787.30 108.40,786.77 111.10,785.70 C112.70,785.07 114.30,781.17 115.90,779.30 C117.50,777.43 119.10,775.83 120.70,774.50 C122.30,773.17 123.90,772.33 125.50,771.30 C128.17,769.59 130.83,766.50 133.50,766.50 C135.67,766.50 137.83,767.03 140.00,768.10 C141.60,768.89 143.20,770.82 144.80,772.10 C146.93,773.80 149.07,775.02 151.20,776.90 C153.07,778.55 154.93,781.97 156.80,782.50 C158.67,783.03 160.53,782.84 162.40,783.30 C164.57,783.84 166.73,785.70 168.90,785.70 C170.50,785.70 172.10,778.50 173.70,778.50 C175.30,778.50 176.90,778.80 178.50,779.30 C180.63,779.96 182.77,782.17 184.90,782.50 C187.07,782.83 189.23,782.73 191.40,783.00 C193.53,783.27 195.67,784.10 197.80,784.10 C198.53,784.10 199.27,783.56 200.00,783.30 C202.40,782.44 204.80,780.90 207.20,780.90 C209.63,780.90 212.07,785.70 214.50,785.70 C217.70,785.70 220.90,783.87 224.10,783.00 C226.77,782.28 229.43,780.90 232.10,780.90 C233.97,780.90 235.83,782.18 237.70,784.10 C239.07,785.51 240.43,789.70 241.80,789.70 C242.87,789.70 243.93,787.00 245.00,785.70 C246.60,783.75 248.20,780.10 249.80,780.10 C251.40,780.10 253.00,783.47 254.60,784.90 C256.73,786.80 258.87,789.70 261.00,789.70 C262.60,789.70 264.20,789.70 265.80,789.70 C267.43,789.70 269.07,790.71 270.70,791.40 C272.30,792.08 273.90,793.80 275.50,793.80 C277.10,793.80 278.70,790.88 280.30,789.40 C281.90,787.92 283.50,785.97 285.10,784.90 C286.70,783.83 288.30,783.00 289.90,783.00 C290.97,783.00 292.03,783.63 293.10,784.90 C294.57,786.64 296.03,794.60 297.50,794.60 C299.83,794.60 302.17,793.00 304.50,793.00 C306.00,793.00 307.50,797.20 309.00,797.20 C310.27,797.20 311.53,795.00 312.80,795.00 C314.90,795.00 317.00,795.47 319.10,795.90 C320.80,796.25 322.50,797.20 324.20,797.20 C326.30,797.20 328.40,794.00 330.50,794.00 C331.57,794.00 332.63,797.45 333.70,801.00 C334.33,803.11 334.97,808.60 335.60,808.60 C336.43,808.60 337.27,805.28 338.10,803.50 C339.03,801.50 339.97,799.35 340.90,797.20" stroke="#7e2f8e" stroke-width="2.2" stroke-dasharray="4.5 4.8"/>
<line x1="37.1" y1="776.00" x2="340.6" y2="776.00" stroke="#000" stroke-width="2"/>
</g>
<text x="245.4" y="830.7" font-size="10.6" font-weight="bold" fill="#111">Patient table</text>
<line x1="245.8" y1="845.9" x2="269.4" y2="845.9" stroke="#808080" stroke-width="1.7"/>
<circle cx="257.6" cy="845.9" r="1.5" fill="#808080"/>
<text x="271.8" y="849.5" font-size="9.8" font-weight="bold" fill="#111">NAC</text>
<line x1="245.8" y1="859.6" x2="269.4" y2="859.6" stroke="#0000ff" stroke-width="2"/>
<text x="271.8" y="863.2" font-size="9.8" font-weight="bold" fill="#111">AC-TX-based</text>
<line x1="245.8" y1="873.2" x2="269.4" y2="873.2" stroke="#7e2f8e" stroke-width="2" stroke-dasharray="4.5 4.8"/>
<text x="271.8" y="876.8" font-size="9.8" font-weight="bold" fill="#111">AC-CT-based</text>
<line x1="245.8" y1="886.7" x2="269.4" y2="886.7" stroke="#000" stroke-width="2"/>
<text x="271.8" y="890.3" font-size="9.8" font-weight="bold" fill="#111">Blank</text>
<clipPath id="hcb"><rect x="413.30" y="73.50" width="267.94" height="209.10"/></clipPath>
<g clip-path="url(#hcb)">
<rect x="416.30" y="103.82" width="37.42" height="175.78" fill="#b3b3b3" stroke="#8c8c8c" stroke-width="0.5"/>
<rect x="453.72" y="263.55" width="37.42" height="16.05" fill="#b3b3b3" stroke="#8c8c8c" stroke-width="0.5"/>
<rect x="491.14" y="270.83" width="37.42" height="8.77" fill="#b3b3b3" stroke="#8c8c8c" stroke-width="0.5"/>
<rect x="528.56" y="276.80" width="37.42" height="2.80" fill="#b3b3b3" stroke="#8c8c8c" stroke-width="0.5"/>
<rect x="565.98" y="274.94" width="37.42" height="4.67" fill="#b3b3b3" stroke="#8c8c8c" stroke-width="0.5"/>
<rect x="603.40" y="276.80" width="37.42" height="2.80" fill="#b3b3b3" stroke="#8c8c8c" stroke-width="0.5"/>
<rect x="640.82" y="278.11" width="37.42" height="1.49" fill="#b3b3b3" stroke="#8c8c8c" stroke-width="0.5"/>
<line x1="416.30" y1="279.60" x2="678.24" y2="279.60" stroke="#999" stroke-width="0.8"/>
<line x1="417.30" y1="93.00" x2="453.72" y2="93.00" stroke="#ff0000" stroke-width="2" stroke-dasharray="4.6 4.2"/>
<line x1="454.72" y1="266.72" x2="491.14" y2="266.72" stroke="#ff0000" stroke-width="2" stroke-dasharray="4.6 4.2"/>
<line x1="492.14" y1="268.78" x2="528.56" y2="268.78" stroke="#ff0000" stroke-width="2" stroke-dasharray="4.6 4.2"/>
<line x1="529.56" y1="276.05" x2="565.98" y2="276.05" stroke="#ff0000" stroke-width="2" stroke-dasharray="4.6 4.2"/>
<line x1="566.98" y1="271.95" x2="603.40" y2="271.95" stroke="#ff0000" stroke-width="2" stroke-dasharray="4.6 4.2"/>
<line x1="604.40" y1="277.36" x2="640.82" y2="277.36" stroke="#ff0000" stroke-width="2" stroke-dasharray="4.6 4.2"/>
<line x1="641.82" y1="278.11" x2="678.24" y2="278.11" stroke="#ff0000" stroke-width="2" stroke-dasharray="4.6 4.2"/>
<line x1="678.24" y1="277.11" x2="678.24" y2="279.60" stroke="#ff0000" stroke-width="2"/>
<polyline points="416.3,279.6 416.3,-93.6 453.7,-93.6 453.7,264.9 491.1,264.9 491.1,271.9 528.6,271.9 528.6,277.4 566.0,277.4 566.0,275.9 603.4,275.9 603.4,275.9 640.8,275.9 640.8,278.1 678.2,278.1 678.2,279.6" fill="none" stroke="#000" stroke-width="2"/>
</g>
<line x1="416.30" y1="73.50" x2="416.30" y2="279.60" stroke="#000" stroke-width="2"/>
<line x1="413.30" y1="279.60" x2="418.50" y2="279.60" stroke="#333" stroke-width="0.8"/>
<text x="412.40" y="283.10" text-anchor="end" font-size="9.8" font-weight="bold" fill="#262626">0</text>
<line x1="413.30" y1="242.28" x2="418.50" y2="242.28" stroke="#333" stroke-width="0.8"/>
<text x="412.40" y="245.78" text-anchor="end" font-size="9.8" font-weight="bold" fill="#262626">20</text>
<line x1="413.30" y1="204.96" x2="418.50" y2="204.96" stroke="#333" stroke-width="0.8"/>
<text x="412.40" y="208.46" text-anchor="end" font-size="9.8" font-weight="bold" fill="#262626">40</text>
<line x1="413.30" y1="167.64" x2="418.50" y2="167.64" stroke="#333" stroke-width="0.8"/>
<text x="412.40" y="171.14" text-anchor="end" font-size="9.8" font-weight="bold" fill="#262626">60</text>
<line x1="413.30" y1="130.32" x2="418.50" y2="130.32" stroke="#333" stroke-width="0.8"/>
<text x="412.40" y="133.82" text-anchor="end" font-size="9.8" font-weight="bold" fill="#262626">80</text>
<line x1="413.30" y1="93.00" x2="418.50" y2="93.00" stroke="#333" stroke-width="0.8"/>
<text x="412.40" y="96.50" text-anchor="end" font-size="9.8" font-weight="bold" fill="#262626">100</text>
<text x="416.30" y="292.30" text-anchor="middle" font-size="9.3" font-weight="bold" fill="#262626">0</text>
<text x="453.72" y="292.30" text-anchor="middle" font-size="9.3" font-weight="bold" fill="#262626">2</text>
<text x="491.14" y="292.30" text-anchor="middle" font-size="9.3" font-weight="bold" fill="#262626">4</text>
<text x="528.56" y="292.30" text-anchor="middle" font-size="9.3" font-weight="bold" fill="#262626">6</text>
<text x="565.98" y="292.30" text-anchor="middle" font-size="9.3" font-weight="bold" fill="#262626">8</text>
<text x="603.40" y="292.30" text-anchor="middle" font-size="9.3" font-weight="bold" fill="#262626">10</text>
<text x="640.82" y="292.30" text-anchor="middle" font-size="9.3" font-weight="bold" fill="#262626">12</text>
<text x="678.24" y="292.30" text-anchor="middle" font-size="9.3" font-weight="bold" fill="#262626">14</text>
<text x="547.27" y="305.40" text-anchor="middle" font-size="10.4" font-weight="bold" fill="#262626">Bq/ml</text>
<text x="655.04" y="308.60" font-size="11" fill="#262626">×</text>
<text x="662.64" y="308.00" font-size="9.9" font-weight="bold" fill="#262626" letter-spacing="-0.5">10</text>
<text x="673.34" y="301.80" font-size="7.6" font-weight="bold" fill="#262626">5</text>
<text transform="translate(390.80,176.55) rotate(-90)" text-anchor="middle" font-size="11.1" font-weight="bold" fill="#262626">frequency</text>
<text x="415.3" y="21.9" font-size="22" font-weight="bold" letter-spacing="1.4" fill="#000">b)</text>
<text x="576.5" y="181" font-size="10.6" font-weight="bold" fill="#111">Acrylic cylinder</text>
<rect x="578.0" y="190.1" width="24.3" height="8.2" fill="#b3b3b3" stroke="#999" stroke-width="0.6"/>
<rect x="578.0" y="201.5" width="24.3" height="8.2" fill="none" stroke="#ff0000" stroke-width="1.8" stroke-dasharray="4 3.2"/>
<rect x="578.0" y="213.6" width="24.3" height="8.2" fill="none" stroke="#000" stroke-width="1.8"/>
<text x="603.6" y="197.7" font-size="9.7" font-weight="bold" fill="#111">TX-based AC</text>
<text x="603.6" y="209.1" font-size="9.7" font-weight="bold" fill="#111">CT -based AC</text>
<text x="603.6" y="221.2" font-size="9.7" font-weight="bold" fill="#111">Blank</text>
<clipPath id="hcd"><rect x="411.60" y="392.90" width="267.94" height="205.90"/></clipPath>
<g clip-path="url(#hcd)">
<rect x="414.60" y="228.80" width="37.42" height="367.00" fill="#b3b3b3" stroke="#8c8c8c" stroke-width="0.5"/>
<rect x="452.02" y="579.28" width="37.42" height="16.51" fill="#b3b3b3" stroke="#8c8c8c" stroke-width="0.5"/>
<rect x="489.44" y="588.09" width="37.42" height="7.71" fill="#b3b3b3" stroke="#8c8c8c" stroke-width="0.5"/>
<rect x="526.86" y="590.29" width="37.42" height="5.50" fill="#b3b3b3" stroke="#8c8c8c" stroke-width="0.5"/>
<line x1="414.60" y1="595.80" x2="676.54" y2="595.80" stroke="#444" stroke-width="1.1"/>
<line x1="415.60" y1="395.42" x2="452.02" y2="395.42" stroke="#ff0000" stroke-width="2" stroke-dasharray="4.6 4.2"/>
<line x1="453.02" y1="578.92" x2="489.44" y2="578.92" stroke="#ff0000" stroke-width="2" stroke-dasharray="4.6 4.2"/>
<line x1="490.44" y1="588.09" x2="526.86" y2="588.09" stroke="#ff0000" stroke-width="2" stroke-dasharray="4.6 4.2"/>
<line x1="527.86" y1="590.11" x2="564.28" y2="590.11" stroke="#ff0000" stroke-width="2" stroke-dasharray="4.6 4.2"/>
<line x1="601.70" y1="592.60" x2="601.70" y2="595.30" stroke="#ff0000" stroke-width="1.8"/>
<polyline points="414.6,595.8 414.6,228.8 452.0,228.8 452.0,580.9 489.4,580.9 489.4,588.3 526.9,588.3 526.9,593.6 564.3,593.6 564.3,591.8 601.7,591.8 601.7,591.8 639.1,591.8 639.1,593.6 676.5,593.6 676.5,595.8" fill="none" stroke="#000" stroke-width="2"/>
</g>
<line x1="414.60" y1="392.90" x2="414.60" y2="595.80" stroke="#000" stroke-width="2"/>
<line x1="411.60" y1="595.80" x2="416.80" y2="595.80" stroke="#333" stroke-width="0.8"/>
<text x="407.70" y="599.30" text-anchor="end" font-size="10" font-weight="bold" fill="#262626">0</text>
<line x1="411.60" y1="559.10" x2="416.80" y2="559.10" stroke="#333" stroke-width="0.8"/>
<text x="407.70" y="562.60" text-anchor="end" font-size="10" font-weight="bold" fill="#262626">20</text>
<line x1="411.60" y1="522.40" x2="416.80" y2="522.40" stroke="#333" stroke-width="0.8"/>
<text x="407.70" y="525.90" text-anchor="end" font-size="10" font-weight="bold" fill="#262626">40</text>
<line x1="411.60" y1="485.70" x2="416.80" y2="485.70" stroke="#333" stroke-width="0.8"/>
<text x="407.70" y="489.20" text-anchor="end" font-size="10" font-weight="bold" fill="#262626">60</text>
<line x1="411.60" y1="449.00" x2="416.80" y2="449.00" stroke="#333" stroke-width="0.8"/>
<text x="407.70" y="452.50" text-anchor="end" font-size="10" font-weight="bold" fill="#262626">80</text>
<line x1="411.60" y1="412.30" x2="416.80" y2="412.30" stroke="#333" stroke-width="0.8"/>
<text x="407.70" y="415.80" text-anchor="end" font-size="10" font-weight="bold" fill="#262626">100</text>
<text x="414.60" y="610.80" text-anchor="middle" font-size="9.3" font-weight="bold" fill="#262626">0</text>
<line x1="414.60" y1="595.80" x2="414.60" y2="598.80" stroke="#555" stroke-width="0.9"/>
<text x="452.02" y="610.80" text-anchor="middle" font-size="9.3" font-weight="bold" fill="#262626">2</text>
<line x1="452.02" y1="595.80" x2="452.02" y2="598.80" stroke="#555" stroke-width="0.9"/>
<text x="489.44" y="610.80" text-anchor="middle" font-size="9.3" font-weight="bold" fill="#262626">4</text>
<line x1="489.44" y1="595.80" x2="489.44" y2="598.80" stroke="#555" stroke-width="0.9"/>
<text x="526.86" y="610.80" text-anchor="middle" font-size="9.3" font-weight="bold" fill="#262626">6</text>
<line x1="526.86" y1="595.80" x2="526.86" y2="598.80" stroke="#555" stroke-width="0.9"/>
<text x="564.28" y="610.80" text-anchor="middle" font-size="9.3" font-weight="bold" fill="#262626">8</text>
<line x1="564.28" y1="595.80" x2="564.28" y2="598.80" stroke="#555" stroke-width="0.9"/>
<text x="601.70" y="610.80" text-anchor="middle" font-size="9.3" font-weight="bold" fill="#262626">10</text>
<line x1="601.70" y1="595.80" x2="601.70" y2="598.80" stroke="#555" stroke-width="0.9"/>
<text x="639.12" y="610.80" text-anchor="middle" font-size="9.3" font-weight="bold" fill="#262626">12</text>
<line x1="639.12" y1="595.80" x2="639.12" y2="598.80" stroke="#555" stroke-width="0.9"/>
<text x="676.54" y="610.80" text-anchor="middle" font-size="9.3" font-weight="bold" fill="#262626">14</text>
<line x1="676.54" y1="595.80" x2="676.54" y2="598.80" stroke="#555" stroke-width="0.9"/>
<text x="545.57" y="624.30" text-anchor="middle" font-size="10.4" font-weight="bold" fill="#262626">Bq/ml</text>
<text x="653.34" y="627.20" font-size="11" fill="#262626">×</text>
<text x="660.94" y="626.60" font-size="9.9" font-weight="bold" fill="#262626" letter-spacing="-0.5">10</text>
<text x="671.64" y="621.60" font-size="7.6" font-weight="bold" fill="#262626">5</text>
<text transform="translate(387.40,496.15) rotate(-90)" text-anchor="middle" font-size="11.1" font-weight="bold" fill="#262626">frequency</text>
<text x="413.9" y="346.9" font-size="22" font-weight="bold" letter-spacing="1.4" fill="#000">d)</text>
<text x="581.0" y="505.4" font-size="10.6" font-weight="bold" fill="#111">Posterior array</text>
<rect x="582.5" y="515.1" width="24.3" height="8.2" fill="#b3b3b3" stroke="#999" stroke-width="0.6"/>
<rect x="582.5" y="527.3" width="24.3" height="8.2" fill="none" stroke="#ff0000" stroke-width="1.8" stroke-dasharray="4 3.2"/>
<rect x="582.5" y="539.2" width="24.3" height="8.2" fill="none" stroke="#000" stroke-width="1.8"/>
<text x="608.1" y="522.7" font-size="9.7" font-weight="bold" fill="#111">TX-based AC</text>
<text x="608.1" y="534.9" font-size="9.7" font-weight="bold" fill="#111">CT -based AC</text>
<text x="608.1" y="546.8" font-size="9.7" font-weight="bold" fill="#111">Blank</text>
<clipPath id="hcf"><rect x="410.30" y="709.10" width="267.80" height="205.40"/></clipPath>
<g clip-path="url(#hcf)">
<rect x="413.30" y="725.90" width="37.40" height="185.60" fill="#b3b3b3" stroke="#8c8c8c" stroke-width="0.5"/>
<rect x="450.70" y="895.54" width="37.40" height="15.96" fill="#b3b3b3" stroke="#8c8c8c" stroke-width="0.5"/>
<rect x="488.10" y="903.61" width="37.40" height="7.89" fill="#b3b3b3" stroke="#8c8c8c" stroke-width="0.5"/>
<rect x="525.50" y="907.83" width="37.40" height="3.67" fill="#b3b3b3" stroke="#8c8c8c" stroke-width="0.5"/>
<rect x="562.90" y="907.83" width="37.40" height="3.67" fill="#b3b3b3" stroke="#8c8c8c" stroke-width="0.5"/>
<rect x="637.70" y="909.67" width="37.40" height="1.83" fill="#b3b3b3" stroke="#8c8c8c" stroke-width="0.5"/>
<line x1="413.30" y1="911.50" x2="675.10" y2="911.50" stroke="#444" stroke-width="1.1"/>
<line x1="414.30" y1="544.70" x2="450.70" y2="544.70" stroke="#ff0000" stroke-width="2" stroke-dasharray="4.6 4.2"/>
<line x1="451.70" y1="900.31" x2="488.10" y2="900.31" stroke="#ff0000" stroke-width="2" stroke-dasharray="4.6 4.2"/>
<line x1="489.10" y1="905.63" x2="525.50" y2="905.63" stroke="#ff0000" stroke-width="2" stroke-dasharray="4.6 4.2"/>
<line x1="526.50" y1="906.00" x2="562.90" y2="906.00" stroke="#ff0000" stroke-width="2" stroke-dasharray="4.6 4.2"/>
<line x1="600.30" y1="908.30" x2="600.30" y2="911.00" stroke="#ff0000" stroke-width="1.8"/>
<polyline points="413.3,911.5 413.3,544.7 450.7,544.7 450.7,896.1 488.1,896.1 488.1,904.3 525.5,904.3 525.5,909.7 562.9,909.7 562.9,907.3 600.3,907.3 600.3,907.3 637.7,907.3 637.7,909.1 675.1,909.1 675.1,911.5" fill="none" stroke="#000" stroke-width="2"/>
</g>
<line x1="413.30" y1="709.10" x2="413.30" y2="911.50" stroke="#000" stroke-width="2"/>
<line x1="410.30" y1="911.50" x2="415.50" y2="911.50" stroke="#333" stroke-width="0.8"/>
<text x="406.40" y="915.00" text-anchor="end" font-size="10" font-weight="bold" fill="#262626">0</text>
<line x1="410.30" y1="874.82" x2="415.50" y2="874.82" stroke="#333" stroke-width="0.8"/>
<text x="406.40" y="878.32" text-anchor="end" font-size="10" font-weight="bold" fill="#262626">20</text>
<line x1="410.30" y1="838.14" x2="415.50" y2="838.14" stroke="#333" stroke-width="0.8"/>
<text x="406.40" y="841.64" text-anchor="end" font-size="10" font-weight="bold" fill="#262626">40</text>
<line x1="410.30" y1="801.46" x2="415.50" y2="801.46" stroke="#333" stroke-width="0.8"/>
<text x="406.40" y="804.96" text-anchor="end" font-size="10" font-weight="bold" fill="#262626">60</text>
<line x1="410.30" y1="764.78" x2="415.50" y2="764.78" stroke="#333" stroke-width="0.8"/>
<text x="406.40" y="768.28" text-anchor="end" font-size="10" font-weight="bold" fill="#262626">80</text>
<line x1="410.30" y1="728.10" x2="415.50" y2="728.10" stroke="#333" stroke-width="0.8"/>
<text x="406.40" y="731.60" text-anchor="end" font-size="10" font-weight="bold" fill="#262626">100</text>
<text x="413.30" y="926.50" text-anchor="middle" font-size="9.3" font-weight="bold" fill="#262626">0</text>
<line x1="413.30" y1="911.50" x2="413.30" y2="914.50" stroke="#555" stroke-width="0.9"/>
<text x="450.70" y="926.50" text-anchor="middle" font-size="9.3" font-weight="bold" fill="#262626">2</text>
<line x1="450.70" y1="911.50" x2="450.70" y2="914.50" stroke="#555" stroke-width="0.9"/>
<text x="488.10" y="926.50" text-anchor="middle" font-size="9.3" font-weight="bold" fill="#262626">4</text>
<line x1="488.10" y1="911.50" x2="488.10" y2="914.50" stroke="#555" stroke-width="0.9"/>
<text x="525.50" y="926.50" text-anchor="middle" font-size="9.3" font-weight="bold" fill="#262626">6</text>
<line x1="525.50" y1="911.50" x2="525.50" y2="914.50" stroke="#555" stroke-width="0.9"/>
<text x="562.90" y="926.50" text-anchor="middle" font-size="9.3" font-weight="bold" fill="#262626">8</text>
<line x1="562.90" y1="911.50" x2="562.90" y2="914.50" stroke="#555" stroke-width="0.9"/>
<text x="600.30" y="926.50" text-anchor="middle" font-size="9.3" font-weight="bold" fill="#262626">10</text>
<line x1="600.30" y1="911.50" x2="600.30" y2="914.50" stroke="#555" stroke-width="0.9"/>
<text x="637.70" y="926.50" text-anchor="middle" font-size="9.3" font-weight="bold" fill="#262626">12</text>
<line x1="637.70" y1="911.50" x2="637.70" y2="914.50" stroke="#555" stroke-width="0.9"/>
<text x="675.10" y="926.50" text-anchor="middle" font-size="9.3" font-weight="bold" fill="#262626">14</text>
<line x1="675.10" y1="911.50" x2="675.10" y2="914.50" stroke="#555" stroke-width="0.9"/>
<text x="544.20" y="940.50" text-anchor="middle" font-size="10.4" font-weight="bold" fill="#262626">Bq/ml</text>
<text x="651.90" y="943.20" font-size="11" fill="#262626">×</text>
<text x="659.50" y="942.60" font-size="9.9" font-weight="bold" fill="#262626" letter-spacing="-0.5">10</text>
<text x="670.20" y="937.80" font-size="7.6" font-weight="bold" fill="#262626">5</text>
<text transform="translate(385.80,811.80) rotate(-90)" text-anchor="middle" font-size="11.1" font-weight="bold" fill="#262626">frequency</text>
<text x="412.8" y="660.2" font-size="22" font-weight="bold" letter-spacing="1.4" fill="#000">f)</text>
<text x="573.2" y="816.2" font-size="10.6" font-weight="bold" fill="#111">Patient table</text>
<rect x="574.7" y="823.6" width="24.3" height="8.2" fill="#b3b3b3" stroke="#999" stroke-width="0.6"/>
<rect x="574.7" y="835.2" width="24.3" height="8.2" fill="none" stroke="#ff0000" stroke-width="1.8" stroke-dasharray="4 3.2"/>
<rect x="574.7" y="847.0" width="24.3" height="8.2" fill="none" stroke="#000" stroke-width="1.8"/>
<text x="600.3" y="831.2" font-size="9.7" font-weight="bold" fill="#111">TX-based AC</text>
<text x="600.3" y="842.8" font-size="9.7" font-weight="bold" fill="#111">CT -based AC</text>
<text x="600.3" y="854.6" font-size="9.7" font-weight="bold" fill="#111">Blank</text>
</svg></body></html>
